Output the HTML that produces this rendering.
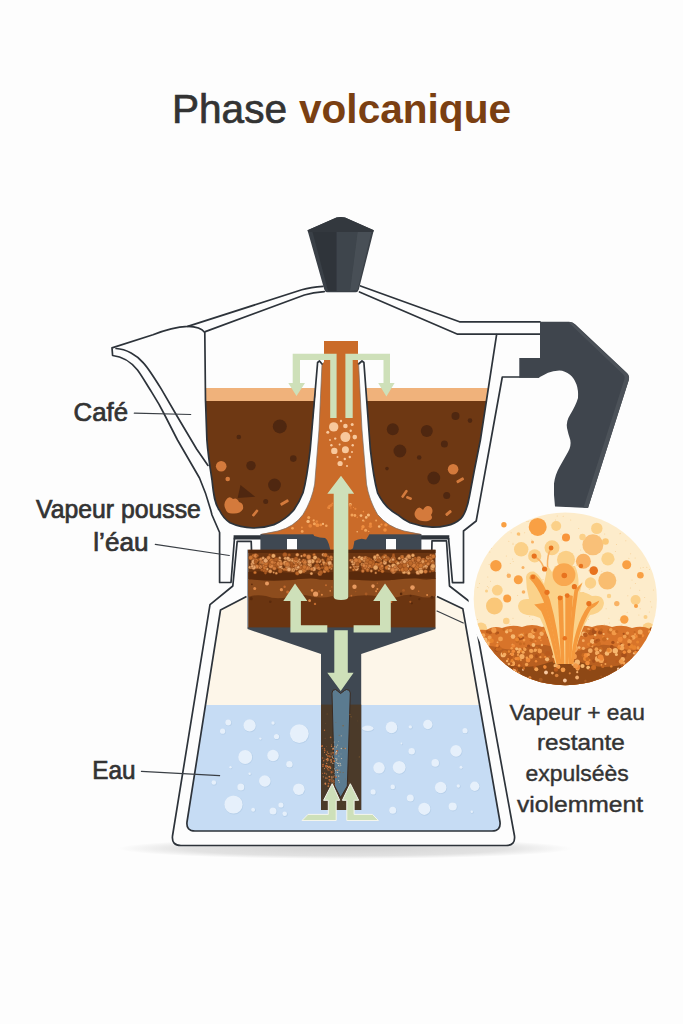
<!DOCTYPE html>
<html><head><meta charset="utf-8">
<style>
html,body{margin:0;padding:0;background:#fdfdfd;}
body{width:683px;height:1024px;overflow:hidden;font-family:"Liberation Sans",sans-serif;}
svg{display:block;position:absolute;left:0;top:0;}
text{font-family:"Liberation Sans",sans-serif;}
</style></head><body>
<svg width="683" height="1024" viewBox="0 0 683 1024">
<defs>
<radialGradient id="shadow" cx="50%" cy="50%" r="50%">
<stop offset="0" stop-color="#d4d4d4"/><stop offset="0.7" stop-color="#e2e2e2"/><stop offset="1" stop-color="#fdfdfd"/>
</radialGradient>
<clipPath id="circ"><ellipse cx="565.3" cy="598.9" rx="91.6" ry="86.3"/></clipPath>
</defs>
<rect width="683" height="1024" fill="#fdfdfd"/>

<!-- TITLE -->
<g id="title">
<text x="172" y="122.5" font-size="40" fill="#333333" stroke="#333333" stroke-width="0.7" textLength="115" lengthAdjust="spacingAndGlyphs">Phase</text>
<text x="299" y="122.5" font-size="40" font-weight="bold" fill="#7a3f12" textLength="212" lengthAdjust="spacingAndGlyphs">volcanique</text>
</g>

<!-- SHADOW -->
<ellipse cx="345" cy="848.5" rx="227" ry="10.5" fill="url(#shadow)"/>

<!-- BASE -->
<g id="base">
<path d="M251.5 550 L251.2 541.3 L237.2 541.3 L232.8 586 L210 604.7 L172.5 836 Q171.5 845.5 181 845.5 L506 845.5 Q515.5 845.5 514.5 836 L472 603.5 L449.5 586 L446.5 540.8 L432 540.8 L431.8 550" fill="#fdfdfd" stroke="#2d333a" stroke-width="1.7" stroke-linejoin="round"/>
<path d="M246.5 596.5 L220.5 610 L187 822 Q186 831 195 831 L492 831 Q501 831 500 822 L462.8 608.7 L437 596.5 Z" fill="#fdf6e9" stroke="none"/>
<path d="M205.5 705 L187 822 Q186 831 195 831 L492 831 Q501 831 500 822 L479.6 705 Z" fill="#c6dcf4"/>
<path d="M246.5 596.5 L220.5 610 L187 822 Q186 831 195 831 L492 831 Q501 831 500 822 L462.8 608.7 L437 596.5" fill="none" stroke="#2d333a" stroke-width="1.7" stroke-linejoin="round"/>
<g id="bubbles"><circle cx="228.6" cy="723.0" r="3.2" fill="#b7d0ea"/>
<circle cx="228.2" cy="722.5" r="2.9" fill="#e6f0fb"/>
<circle cx="223.0" cy="731.7" r="2.9" fill="#b7d0ea"/>
<circle cx="222.6" cy="731.2" r="2.6" fill="#e6f0fb"/>
<circle cx="250.0" cy="725.9" r="6.4" fill="#b7d0ea"/>
<circle cx="249.6" cy="725.4" r="6.1" fill="#e6f0fb"/>
<circle cx="273.4" cy="723.5" r="2.0" fill="#b7d0ea"/>
<circle cx="273.0" cy="723.0" r="1.7" fill="#e6f0fb"/>
<circle cx="299.7" cy="734.1" r="9.7" fill="#b7d0ea"/>
<circle cx="299.3" cy="733.6" r="9.4" fill="#e6f0fb"/>
<circle cx="276.9" cy="737.0" r="2.9" fill="#b7d0ea"/>
<circle cx="276.5" cy="736.5" r="2.6" fill="#e6f0fb"/>
<circle cx="260.8" cy="739.1" r="1.5" fill="#b7d0ea"/>
<circle cx="260.4" cy="738.6" r="1.2" fill="#e6f0fb"/>
<circle cx="245.6" cy="757.5" r="7.3" fill="#b7d0ea"/>
<circle cx="245.2" cy="757.0" r="7.0" fill="#e6f0fb"/>
<circle cx="273.4" cy="756.0" r="6.1" fill="#b7d0ea"/>
<circle cx="273.0" cy="755.5" r="5.8" fill="#e6f0fb"/>
<circle cx="289.8" cy="764.8" r="3.5" fill="#b7d0ea"/>
<circle cx="289.4" cy="764.3" r="3.2" fill="#e6f0fb"/>
<circle cx="230.9" cy="767.8" r="1.5" fill="#b7d0ea"/>
<circle cx="230.5" cy="767.3" r="1.2" fill="#e6f0fb"/>
<circle cx="250.0" cy="774.2" r="1.5" fill="#b7d0ea"/>
<circle cx="249.6" cy="773.7" r="1.2" fill="#e6f0fb"/>
<circle cx="214.2" cy="783.0" r="2.6" fill="#b7d0ea"/>
<circle cx="213.8" cy="782.5" r="2.3" fill="#e6f0fb"/>
<circle cx="265.2" cy="781.5" r="6.1" fill="#b7d0ea"/>
<circle cx="264.8" cy="781.0" r="5.8" fill="#e6f0fb"/>
<circle cx="241.2" cy="787.4" r="3.8" fill="#b7d0ea"/>
<circle cx="240.8" cy="786.9" r="3.5" fill="#e6f0fb"/>
<circle cx="299.2" cy="789.7" r="6.1" fill="#b7d0ea"/>
<circle cx="298.8" cy="789.2" r="5.8" fill="#e6f0fb"/>
<circle cx="233.9" cy="805.0" r="9.4" fill="#b7d0ea"/>
<circle cx="233.5" cy="804.5" r="9.1" fill="#e6f0fb"/>
<circle cx="253.5" cy="810.2" r="2.3" fill="#b7d0ea"/>
<circle cx="253.1" cy="809.7" r="2.0" fill="#e6f0fb"/>
<circle cx="273.4" cy="811.4" r="3.8" fill="#b7d0ea"/>
<circle cx="273.0" cy="810.9" r="3.5" fill="#e6f0fb"/>
<circle cx="281.3" cy="805.5" r="2.9" fill="#b7d0ea"/>
<circle cx="280.9" cy="805.0" r="2.6" fill="#e6f0fb"/>
<circle cx="285.1" cy="814.3" r="2.6" fill="#b7d0ea"/>
<circle cx="284.7" cy="813.8" r="2.3" fill="#e6f0fb"/>
<circle cx="391.9" cy="727.9" r="6.1" fill="#b7d0ea"/>
<circle cx="391.5" cy="727.4" r="5.8" fill="#e6f0fb"/>
<circle cx="410.7" cy="727.4" r="2.0" fill="#b7d0ea"/>
<circle cx="410.3" cy="726.9" r="1.7" fill="#e6f0fb"/>
<circle cx="428.2" cy="725.0" r="5.0" fill="#b7d0ea"/>
<circle cx="427.8" cy="724.5" r="4.7" fill="#e6f0fb"/>
<circle cx="465.4" cy="731.2" r="2.9" fill="#b7d0ea"/>
<circle cx="465.0" cy="730.7" r="2.6" fill="#e6f0fb"/>
<circle cx="412.1" cy="751.7" r="3.5" fill="#b7d0ea"/>
<circle cx="411.7" cy="751.2" r="3.2" fill="#e6f0fb"/>
<circle cx="456.4" cy="751.4" r="6.1" fill="#b7d0ea"/>
<circle cx="456.0" cy="750.9" r="5.8" fill="#e6f0fb"/>
<circle cx="401.9" cy="744.0" r="1.2" fill="#b7d0ea"/>
<circle cx="401.5" cy="743.5" r="0.9" fill="#e6f0fb"/>
<circle cx="435.6" cy="763.4" r="4.1" fill="#b7d0ea"/>
<circle cx="435.2" cy="762.9" r="3.8" fill="#e6f0fb"/>
<circle cx="379.4" cy="768.3" r="6.1" fill="#b7d0ea"/>
<circle cx="379.0" cy="767.8" r="5.8" fill="#e6f0fb"/>
<circle cx="399.6" cy="767.8" r="6.7" fill="#b7d0ea"/>
<circle cx="399.2" cy="767.3" r="6.4" fill="#e6f0fb"/>
<circle cx="461.4" cy="767.8" r="1.8" fill="#b7d0ea"/>
<circle cx="461.0" cy="767.3" r="1.5" fill="#e6f0fb"/>
<circle cx="441.1" cy="788.0" r="6.1" fill="#b7d0ea"/>
<circle cx="440.7" cy="787.5" r="5.8" fill="#e6f0fb"/>
<circle cx="475.1" cy="786.8" r="5.0" fill="#b7d0ea"/>
<circle cx="474.7" cy="786.3" r="4.7" fill="#e6f0fb"/>
<circle cx="458.7" cy="786.5" r="2.0" fill="#b7d0ea"/>
<circle cx="458.3" cy="786.0" r="1.7" fill="#e6f0fb"/>
<circle cx="393.1" cy="787.4" r="2.6" fill="#b7d0ea"/>
<circle cx="392.7" cy="786.9" r="2.3" fill="#e6f0fb"/>
<circle cx="373.5" cy="792.4" r="2.9" fill="#b7d0ea"/>
<circle cx="373.1" cy="791.9" r="2.6" fill="#e6f0fb"/>
<circle cx="410.7" cy="798.5" r="3.8" fill="#b7d0ea"/>
<circle cx="410.3" cy="798.0" r="3.5" fill="#e6f0fb"/>
<circle cx="424.7" cy="809.3" r="6.4" fill="#b7d0ea"/>
<circle cx="424.3" cy="808.8" r="6.1" fill="#e6f0fb"/>
<circle cx="453.1" cy="807.0" r="4.4" fill="#b7d0ea"/>
<circle cx="452.7" cy="806.5" r="4.1" fill="#e6f0fb"/>
<circle cx="393.1" cy="810.8" r="3.8" fill="#b7d0ea"/>
<circle cx="392.7" cy="810.3" r="3.5" fill="#e6f0fb"/>
<circle cx="472.2" cy="812.3" r="1.5" fill="#b7d0ea"/>
<circle cx="471.8" cy="811.8" r="1.2" fill="#e6f0fb"/>
<ellipse cx="368.2" cy="728.8" rx="6" ry="3" fill="#b7d0ea"/><ellipse cx="367.8" cy="728.3" rx="5.7" ry="2.7" fill="#e6f0fb"/></g>
</g>

<!-- UPPER -->
<g id="upper" fill="none" stroke="#2d333a" stroke-width="1.7" stroke-linejoin="round" stroke-linecap="round">
<!-- orange column -->
<path d="M324 341 L358 341 L358 362 L358.6 364 L362 430 L366.5 484 Q369 500 377.6 514.6 Q388 527 404 531 L421 534 L421 536 L261 536 L261 534 L278 531 Q294 527 303 514.6 Q312 500 314.7 484 L319 430 L322 364 L324 362 Z" fill="#ca6b29" stroke="none"/>
<!-- left lobe: crema + coffee -->
<path id="lobeL" d="M205.4 388 L316 388 L310.3 448.8 Q307 478 303 492.8 Q299 503 293.4 510.5 Q285 520 274 524.6 Q264 528 253 528 Q240 527.5 230 522.8 Q223 518 219.6 510.5 C215 505 213.5 495 212 480 Q208 455 206.9 440 Z" fill="#6e3813" stroke="none"/>
<path d="M205.4 388 L316 388 L314.8 401 L205.6 401 Z" fill="#f0b27b" stroke="none"/>
<!-- right lobe -->
<path id="lobeR" d="M488.3 388 L480.4 440 L474.4 470 L469.5 496 C467.5 507 465 514 461.2 518.3 Q455 524 446.6 525.6 Q439 527.3 432 527.1 Q421 526.5 410 522.7 Q403 519.5 397.6 514.7 Q385 508 377.6 492.8 Q373.5 478 370.3 448.8 L365.8 388 Z" fill="#6e3813" stroke="none"/>
<path d="M488.3 388 L365.8 388 L366.8 401 L486.3 401 Z" fill="#f0b27b" stroke="none"/>
<g id="specks" stroke="none"><circle cx="279.8" cy="426.4" r="7.0" fill="#4f2710"/>
<circle cx="238.8" cy="437.0" r="2.3" fill="#4f2710"/>
<circle cx="293.3" cy="458.6" r="3.3" fill="#4f2710"/>
<circle cx="251.0" cy="465.6" r="4.7" fill="#4f2710"/>
<circle cx="274.5" cy="485.0" r="6.4" fill="#4f2710"/>
<circle cx="265.7" cy="501.4" r="2.5" fill="#4f2710"/>
<circle cx="392.8" cy="429.3" r="6.0" fill="#4f2710"/>
<circle cx="426.8" cy="431.1" r="6.0" fill="#4f2710"/>
<circle cx="455.5" cy="415.9" r="4.0" fill="#4f2710"/>
<circle cx="470.0" cy="420.6" r="2.3" fill="#4f2710"/>
<circle cx="399.9" cy="451.0" r="6.4" fill="#4f2710"/>
<circle cx="444.4" cy="444.0" r="3.5" fill="#4f2710"/>
<circle cx="419.2" cy="457.5" r="2.3" fill="#4f2710"/>
<circle cx="387.0" cy="468.6" r="1.8" fill="#4f2710"/>
<circle cx="433.8" cy="478.0" r="6.4" fill="#4f2710"/>
<circle cx="446.7" cy="495.5" r="3.5" fill="#4f2710"/>
<circle cx="221.2" cy="466.2" r="5.3" fill="#d47a3c"/>
<circle cx="227.7" cy="479.0" r="2.3" fill="#d47a3c"/>
<circle cx="453.1" cy="469.2" r="5.3" fill="#d47a3c"/>
<path d="M240.5 485 L255.2 496.7 L237.6 497.9 Z" fill="#4f2710"/>
<path d="M226 500 Q229 495 233 499 Q237 497 239 502 Q244 503 243 509 Q240 514 233 513.5 Q227 514 225.5 509 Q223 504 226 500 Z" fill="#d47a3c"/>
<path d="M416 510 Q419 505 423 510 Q426 504 431 507 Q434 511 431 515 Q434 519 428 521 Q420 522 416 518 Q413 514 416 510 Z" fill="#d47a3c"/>
<rect x="-4.0" y="-1.3" width="8" height="2.6" rx="1" fill="#d47a3c" transform="translate(255.2,513) rotate(-50)"/>
<rect x="-4.5" y="-1.5" width="9" height="3" rx="1" fill="#d47a3c" transform="translate(284.5,502.5) rotate(-30)"/>
<rect x="-4.5" y="-1.3" width="9" height="2.6" rx="1" fill="#d47a3c" transform="translate(404.5,493.8) rotate(-55)"/>
<rect x="-3.0" y="-1.3" width="6" height="2.6" rx="1" fill="#d47a3c" transform="translate(409,498) rotate(20)"/>
<rect x="-4.0" y="-1.5" width="8" height="3" rx="1" fill="#d47a3c" transform="translate(460.2,480.3) rotate(-30)"/>
<rect x="-3.5" y="-1.5" width="7" height="3" rx="1" fill="#d47a3c" transform="translate(448.5,513) rotate(-40)"/></g>
<!-- lobe outlines / chamber walls -->
<path d="M187.8 326.4 Q200.5 326.5 204.8 332.5 L205.5 400 L206.9 440 Q208 455 212 480 C213.5 495 215 505 219.6 510.5 Q223 518 230 522.8 Q240 527.5 253 528 Q264 528 274 524.6 Q285 520 293.4 510.5 Q299 503 303 492.8 Q307 478 310.3 448.8 L317.6 362.5 L319.5 361 L322 364"/>
<path d="M496.6 334.7 L480.4 440 L474.4 470 L469.5 496 C467.5 507 465 514 461.2 518.3 Q455 524 446.6 525.6 Q439 527.3 432 527.1 Q421 526.5 410 522.7 Q403 519.5 397.6 514.7 Q385 508 377.6 492.8 Q373.5 478 370.3 448.8 L363.9 362.5 L362 361 L358.6 364"/>
<!-- funnel inner lines -->
<path d="M322 364 L319 430 L314.7 484 Q312 500 303 514.6 Q294 527 278 531 L261 534.5" stroke-width="0.7" stroke="#7a6a60"/>
<path d="M358.6 364 L362 430 L366.5 484 Q369 500 377.6 514.6 Q388 527 404 531 L421 534.5" stroke-width="0.7" stroke="#7a6a60"/>
<!-- lid -->
<path d="M323 286.3 Q311 287 301.8 289.8 L187.8 326.4 C178 326.9 166 329.6 153 334.8 L112 347.9 L112.6 355.5 C122 356.5 131 362 137.5 370 C142 376 147 385 151.8 392.4 L158.9 404.1 L164.7 415 L177.5 440 L199.5 478 Q207 495 212 515 L219.6 532.5 L219.6 582.5 L231 582.5 L234.5 538"/>
<path d="M324.2 291.6 Q313 292.3 304.4 295 L205.3 331.6"/>
<path d="M116.1 348.5 C126 349 137 355 143.6 363.1 C148 368 152 374 161.2 388.9 L176.4 415 L196.6 449 L208 465.4"/>
<path d="M360.5 286 L459.5 321.8 L540 321.8"/>
<path d="M359.5 292 L457.6 334.2 L540 334.2"/>
<path d="M538.5 377 L502.3 377 L490.9 440 L476.2 521 L463.5 531 L463.5 582.7 L452.5 582.7 L448.6 538.5"/>
</g>

<g id="mid">
<!-- collar top bars -->
<path d="M233.6 537.3 L261 537.3 M421 537.3 L449.3 537.3" stroke="#2d333a" stroke-width="4.2" fill="none"/>
<!-- funnel / tube dark -->
<path d="M247.5 627 L435.5 627 L435.5 629 L361.2 654 L361.2 810 L321 810 L321 654 L247.5 629 Z" fill="#3f4852"/>
<rect x="321" y="704.6" width="40.2" height="105.4" fill="#4b3a29"/>
<!-- filter plate -->
<rect x="260.4" y="534.3" width="161" height="16" fill="#3f4852"/>
<rect x="287" y="539" width="10" height="10.5" fill="#fdfdfd"/>
<rect x="386" y="539" width="10" height="10.5" fill="#fdfdfd"/>
<!-- orange drip into plate -->
<path d="M310 532 L312.7 532.9 L314.2 535.9 Q320 538 325.1 538.1 Q328 540 328.8 543.9 L330.3 549.8 L333.2 552 L348.1 552 L353 548.3 Q354 544 354.4 541 Q358 539 361.7 538.8 L366.1 539.5 Q368.5 536 369.8 532.9 L372 532 Z" fill="#ca6b29"/>
<!-- basket -->
<rect x="247.5" y="549.8" width="188" height="77.6" fill="#6b3511"/>
<rect x="247" y="549.8" width="1.3" height="77.6" fill="#9aa3ad"/>
<g id="grounds"><path d="M248.3 549.8 L435.5 549.8 L435.5 553 L248.3 553 Z" fill="#55280c"/>
<path d="M248.3 580 Q256 577 264 579 Q272 576 282 579 Q292 582 300 578 Q310 576 320 580 L333 580 L333 596 Q320 599 310 596 Q298 593 288 597 Q276 600 266 596 Q256 594 248.3 597 Z" fill="#8d4c1d"/>
<path d="M349 580 L360 580 Q370 576 380 579 Q390 582 400 578 Q410 576 420 579 Q428 581 435.5 578 L435.5 596 Q428 599 418 596 Q408 593 398 597 Q386 600 376 596 Q364 594 349 597 Z" fill="#8d4c1d"/>
<path d="M248.3 572 Q270 570 290 573 Q310 575 333 572 L333 580 Q310 577 290 580 Q270 582 248.3 579 Z" fill="#5a2a0c"/>
<path d="M349 572 Q370 570 392 573 Q414 575 435.5 572 L435.5 579 Q414 577 392 580 Q370 582 349 579 Z" fill="#5a2a0c"/>
<circle cx="432.7" cy="570.1" r="1.7" fill="#cc7532" stroke="#8a4516" stroke-width="0.4"/>
<circle cx="362.5" cy="564.7" r="1.9" fill="#e9a868" stroke="#8a4516" stroke-width="0.4"/>
<circle cx="370.9" cy="559.8" r="1.2" fill="#d98545" stroke="#8a4516" stroke-width="0.4"/>
<circle cx="397.1" cy="568.6" r="2.1" fill="#e39a5a" stroke="#8a4516" stroke-width="0.4"/>
<circle cx="402.0" cy="567.6" r="1.3" fill="#d27c3c" stroke="#8a4516" stroke-width="0.4"/>
<circle cx="289.2" cy="555.0" r="1.5" fill="#b05f26" stroke="#8a4516" stroke-width="0.4"/>
<circle cx="403.5" cy="563.4" r="1.1" fill="#bd692b" stroke="#8a4516" stroke-width="0.4"/>
<circle cx="415.2" cy="558.7" r="1.8" fill="#cc7532" stroke="#8a4516" stroke-width="0.4"/>
<circle cx="253.4" cy="555.7" r="1.7" fill="#cc7532" stroke="#8a4516" stroke-width="0.4"/>
<circle cx="362.0" cy="564.0" r="1.2" fill="#e39a5a" stroke="#8a4516" stroke-width="0.4"/>
<circle cx="352.4" cy="560.7" r="1.5" fill="#e9a868" stroke="#8a4516" stroke-width="0.4"/>
<circle cx="394.3" cy="568.5" r="1.4" fill="#d27c3c" stroke="#8a4516" stroke-width="0.4"/>
<circle cx="257.8" cy="567.5" r="1.1" fill="#e9a868" stroke="#8a4516" stroke-width="0.4"/>
<circle cx="353.4" cy="564.2" r="1.7" fill="#e8a66c" stroke="#8a4516" stroke-width="0.4"/>
<circle cx="423.2" cy="560.3" r="2.4" fill="#d27c3c" stroke="#8a4516" stroke-width="0.4"/>
<circle cx="414.3" cy="565.1" r="1.6" fill="#b05f26" stroke="#8a4516" stroke-width="0.4"/>
<circle cx="331.3" cy="568.7" r="1.1" fill="#e8a66c" stroke="#8a4516" stroke-width="0.4"/>
<circle cx="328.8" cy="564.5" r="1.2" fill="#cc7532" stroke="#8a4516" stroke-width="0.4"/>
<circle cx="422.9" cy="567.6" r="2.0" fill="#bd692b" stroke="#8a4516" stroke-width="0.4"/>
<circle cx="276.3" cy="573.2" r="1.3" fill="#e39a5a" stroke="#8a4516" stroke-width="0.4"/>
<circle cx="323.3" cy="554.7" r="1.7" fill="#e8a66c" stroke="#8a4516" stroke-width="0.4"/>
<circle cx="279.7" cy="558.0" r="1.5" fill="#e8a66c" stroke="#8a4516" stroke-width="0.4"/>
<circle cx="315.6" cy="566.0" r="1.1" fill="#bd692b" stroke="#8a4516" stroke-width="0.4"/>
<circle cx="253.6" cy="558.4" r="1.0" fill="#bd692b" stroke="#8a4516" stroke-width="0.4"/>
<circle cx="304.4" cy="561.7" r="2.4" fill="#e39a5a" stroke="#8a4516" stroke-width="0.4"/>
<circle cx="431.3" cy="566.7" r="1.2" fill="#d27c3c" stroke="#8a4516" stroke-width="0.4"/>
<circle cx="416.7" cy="567.0" r="2.2" fill="#d27c3c" stroke="#8a4516" stroke-width="0.4"/>
<circle cx="324.7" cy="571.1" r="1.8" fill="#e9a868" stroke="#8a4516" stroke-width="0.4"/>
<circle cx="378.9" cy="565.0" r="2.0" fill="#b05f26" stroke="#8a4516" stroke-width="0.4"/>
<circle cx="414.7" cy="564.4" r="1.4" fill="#d98545" stroke="#8a4516" stroke-width="0.4"/>
<circle cx="366.7" cy="564.2" r="2.3" fill="#e39a5a" stroke="#8a4516" stroke-width="0.4"/>
<circle cx="298.7" cy="561.5" r="1.2" fill="#d98545" stroke="#8a4516" stroke-width="0.4"/>
<circle cx="299.3" cy="559.8" r="1.2" fill="#e8a66c" stroke="#8a4516" stroke-width="0.4"/>
<circle cx="422.6" cy="567.3" r="1.3" fill="#d27c3c" stroke="#8a4516" stroke-width="0.4"/>
<circle cx="365.7" cy="562.8" r="1.8" fill="#e8a66c" stroke="#8a4516" stroke-width="0.4"/>
<circle cx="303.4" cy="560.4" r="1.5" fill="#d98545" stroke="#8a4516" stroke-width="0.4"/>
<circle cx="433.0" cy="563.5" r="1.1" fill="#d98545" stroke="#8a4516" stroke-width="0.4"/>
<circle cx="384.9" cy="560.4" r="1.7" fill="#e9a868" stroke="#8a4516" stroke-width="0.4"/>
<circle cx="269.6" cy="562.5" r="2.2" fill="#b05f26" stroke="#8a4516" stroke-width="0.4"/>
<circle cx="428.5" cy="560.5" r="1.5" fill="#e8a66c" stroke="#8a4516" stroke-width="0.4"/>
<circle cx="430.8" cy="558.3" r="2.1" fill="#cc7532" stroke="#8a4516" stroke-width="0.4"/>
<circle cx="324.5" cy="571.4" r="1.5" fill="#d98545" stroke="#8a4516" stroke-width="0.4"/>
<circle cx="404.0" cy="570.5" r="2.3" fill="#b05f26" stroke="#8a4516" stroke-width="0.4"/>
<circle cx="280.0" cy="564.1" r="1.1" fill="#b05f26" stroke="#8a4516" stroke-width="0.4"/>
<circle cx="410.2" cy="561.6" r="1.4" fill="#d27c3c" stroke="#8a4516" stroke-width="0.4"/>
<circle cx="258.3" cy="559.9" r="1.3" fill="#d27c3c" stroke="#8a4516" stroke-width="0.4"/>
<circle cx="350.7" cy="560.3" r="1.4" fill="#d27c3c" stroke="#8a4516" stroke-width="0.4"/>
<circle cx="290.1" cy="565.3" r="1.1" fill="#d27c3c" stroke="#8a4516" stroke-width="0.4"/>
<circle cx="287.0" cy="567.6" r="1.8" fill="#d98545" stroke="#8a4516" stroke-width="0.4"/>
<circle cx="266.7" cy="564.6" r="1.9" fill="#b05f26" stroke="#8a4516" stroke-width="0.4"/>
<circle cx="254.1" cy="561.0" r="1.5" fill="#e8a66c" stroke="#8a4516" stroke-width="0.4"/>
<circle cx="265.5" cy="573.0" r="1.2" fill="#b05f26" stroke="#8a4516" stroke-width="0.4"/>
<circle cx="390.6" cy="560.9" r="2.1" fill="#e9a868" stroke="#8a4516" stroke-width="0.4"/>
<circle cx="277.5" cy="562.3" r="1.1" fill="#b05f26" stroke="#8a4516" stroke-width="0.4"/>
<circle cx="385.0" cy="556.4" r="2.2" fill="#cc7532" stroke="#8a4516" stroke-width="0.4"/>
<circle cx="417.4" cy="563.6" r="2.2" fill="#d98545" stroke="#8a4516" stroke-width="0.4"/>
<circle cx="402.1" cy="557.0" r="1.9" fill="#e8a66c" stroke="#8a4516" stroke-width="0.4"/>
<circle cx="265.7" cy="570.4" r="2.4" fill="#b05f26" stroke="#8a4516" stroke-width="0.4"/>
<circle cx="403.8" cy="565.4" r="1.8" fill="#d98545" stroke="#8a4516" stroke-width="0.4"/>
<circle cx="365.2" cy="561.1" r="1.0" fill="#e39a5a" stroke="#8a4516" stroke-width="0.4"/>
<circle cx="387.7" cy="558.2" r="1.8" fill="#e39a5a" stroke="#8a4516" stroke-width="0.4"/>
<circle cx="371.3" cy="571.0" r="1.4" fill="#e39a5a" stroke="#8a4516" stroke-width="0.4"/>
<circle cx="405.7" cy="566.8" r="1.4" fill="#e8a66c" stroke="#8a4516" stroke-width="0.4"/>
<circle cx="292.5" cy="560.2" r="2.3" fill="#e39a5a" stroke="#8a4516" stroke-width="0.4"/>
<circle cx="375.8" cy="559.0" r="2.2" fill="#e8a66c" stroke="#8a4516" stroke-width="0.4"/>
<circle cx="264.3" cy="565.8" r="2.1" fill="#d27c3c" stroke="#8a4516" stroke-width="0.4"/>
<circle cx="364.3" cy="566.6" r="1.2" fill="#e9a868" stroke="#8a4516" stroke-width="0.4"/>
<circle cx="261.2" cy="562.6" r="2.0" fill="#e9a868" stroke="#8a4516" stroke-width="0.4"/>
<circle cx="303.5" cy="570.9" r="1.8" fill="#e9a868" stroke="#8a4516" stroke-width="0.4"/>
<circle cx="391.2" cy="569.8" r="1.5" fill="#e39a5a" stroke="#8a4516" stroke-width="0.4"/>
<circle cx="422.3" cy="563.2" r="1.0" fill="#e9a868" stroke="#8a4516" stroke-width="0.4"/>
<circle cx="432.9" cy="562.8" r="1.6" fill="#e8a66c" stroke="#8a4516" stroke-width="0.4"/>
<circle cx="263.7" cy="570.5" r="1.4" fill="#bd692b" stroke="#8a4516" stroke-width="0.4"/>
<circle cx="274.4" cy="568.0" r="2.2" fill="#d27c3c" stroke="#8a4516" stroke-width="0.4"/>
<circle cx="413.2" cy="562.5" r="2.3" fill="#e9a868" stroke="#8a4516" stroke-width="0.4"/>
<circle cx="322.5" cy="560.0" r="1.2" fill="#e9a868" stroke="#8a4516" stroke-width="0.4"/>
<circle cx="375.4" cy="556.8" r="1.6" fill="#b05f26" stroke="#8a4516" stroke-width="0.4"/>
<circle cx="308.2" cy="568.0" r="2.3" fill="#d98545" stroke="#8a4516" stroke-width="0.4"/>
<circle cx="309.7" cy="560.8" r="2.4" fill="#e8a66c" stroke="#8a4516" stroke-width="0.4"/>
<circle cx="381.2" cy="567.8" r="2.4" fill="#d27c3c" stroke="#8a4516" stroke-width="0.4"/>
<circle cx="296.6" cy="568.1" r="2.3" fill="#e39a5a" stroke="#8a4516" stroke-width="0.4"/>
<circle cx="316.4" cy="565.5" r="1.6" fill="#d27c3c" stroke="#8a4516" stroke-width="0.4"/>
<circle cx="407.2" cy="563.2" r="2.0" fill="#cc7532" stroke="#8a4516" stroke-width="0.4"/>
<circle cx="295.9" cy="565.1" r="1.4" fill="#bd692b" stroke="#8a4516" stroke-width="0.4"/>
<circle cx="284.9" cy="554.8" r="2.3" fill="#b05f26" stroke="#8a4516" stroke-width="0.4"/>
<circle cx="418.1" cy="572.4" r="2.4" fill="#e8a66c" stroke="#8a4516" stroke-width="0.4"/>
<circle cx="382.4" cy="571.2" r="1.7" fill="#cc7532" stroke="#8a4516" stroke-width="0.4"/>
<circle cx="368.6" cy="566.0" r="1.4" fill="#d98545" stroke="#8a4516" stroke-width="0.4"/>
<circle cx="417.8" cy="560.6" r="1.6" fill="#d27c3c" stroke="#8a4516" stroke-width="0.4"/>
<circle cx="304.8" cy="562.6" r="2.1" fill="#d27c3c" stroke="#8a4516" stroke-width="0.4"/>
<circle cx="324.7" cy="563.9" r="2.0" fill="#e39a5a" stroke="#8a4516" stroke-width="0.4"/>
<circle cx="280.8" cy="569.2" r="1.2" fill="#e8a66c" stroke="#8a4516" stroke-width="0.4"/>
<circle cx="399.4" cy="558.3" r="1.5" fill="#e9a868" stroke="#8a4516" stroke-width="0.4"/>
<circle cx="328.6" cy="561.8" r="1.8" fill="#e8a66c" stroke="#8a4516" stroke-width="0.4"/>
<circle cx="266.7" cy="562.3" r="1.4" fill="#d27c3c" stroke="#8a4516" stroke-width="0.4"/>
<circle cx="398.9" cy="565.3" r="1.3" fill="#d98545" stroke="#8a4516" stroke-width="0.4"/>
<circle cx="387.9" cy="559.1" r="1.8" fill="#b05f26" stroke="#8a4516" stroke-width="0.4"/>
<circle cx="299.7" cy="566.2" r="2.1" fill="#e9a868" stroke="#8a4516" stroke-width="0.4"/>
<circle cx="301.1" cy="566.0" r="1.8" fill="#e8a66c" stroke="#8a4516" stroke-width="0.4"/>
<circle cx="267.0" cy="563.0" r="2.3" fill="#b05f26" stroke="#8a4516" stroke-width="0.4"/>
<circle cx="406.2" cy="567.6" r="2.3" fill="#d98545" stroke="#8a4516" stroke-width="0.4"/>
<circle cx="273.4" cy="555.9" r="2.2" fill="#e9a868" stroke="#8a4516" stroke-width="0.4"/>
<circle cx="250.0" cy="567.3" r="1.6" fill="#e9a868" stroke="#8a4516" stroke-width="0.4"/>
<circle cx="428.9" cy="563.5" r="1.2" fill="#e39a5a" stroke="#8a4516" stroke-width="0.4"/>
<circle cx="423.2" cy="565.9" r="2.1" fill="#e9a868" stroke="#8a4516" stroke-width="0.4"/>
<circle cx="265.6" cy="563.5" r="1.2" fill="#d98545" stroke="#8a4516" stroke-width="0.4"/>
<circle cx="368.8" cy="563.2" r="1.5" fill="#cc7532" stroke="#8a4516" stroke-width="0.4"/>
<circle cx="365.3" cy="558.2" r="2.1" fill="#e39a5a" stroke="#8a4516" stroke-width="0.4"/>
<circle cx="262.9" cy="562.6" r="1.8" fill="#e8a66c" stroke="#8a4516" stroke-width="0.4"/>
<circle cx="321.4" cy="564.6" r="1.0" fill="#d27c3c" stroke="#8a4516" stroke-width="0.4"/>
<circle cx="433.3" cy="570.2" r="1.4" fill="#bd692b" stroke="#8a4516" stroke-width="0.4"/>
<circle cx="368.6" cy="567.7" r="1.4" fill="#e8a66c" stroke="#8a4516" stroke-width="0.4"/>
<circle cx="255.4" cy="559.7" r="1.6" fill="#d27c3c" stroke="#8a4516" stroke-width="0.4"/>
<circle cx="260.2" cy="567.1" r="2.0" fill="#e39a5a" stroke="#8a4516" stroke-width="0.4"/>
<circle cx="297.3" cy="573.3" r="2.0" fill="#bd692b" stroke="#8a4516" stroke-width="0.4"/>
<circle cx="291.7" cy="567.9" r="1.6" fill="#b05f26" stroke="#8a4516" stroke-width="0.4"/>
<circle cx="286.4" cy="564.5" r="2.2" fill="#e39a5a" stroke="#8a4516" stroke-width="0.4"/>
<circle cx="287.8" cy="567.7" r="2.2" fill="#e8a66c" stroke="#8a4516" stroke-width="0.4"/>
<circle cx="298.8" cy="562.7" r="2.3" fill="#e39a5a" stroke="#8a4516" stroke-width="0.4"/>
<circle cx="425.2" cy="560.3" r="1.3" fill="#b05f26" stroke="#8a4516" stroke-width="0.4"/>
<circle cx="417.5" cy="563.6" r="1.1" fill="#cc7532" stroke="#8a4516" stroke-width="0.4"/>
<circle cx="419.6" cy="564.5" r="1.9" fill="#b05f26" stroke="#8a4516" stroke-width="0.4"/>
<circle cx="259.5" cy="563.9" r="1.1" fill="#b05f26" stroke="#8a4516" stroke-width="0.4"/>
<circle cx="381.0" cy="562.5" r="1.1" fill="#cc7532" stroke="#8a4516" stroke-width="0.4"/>
<circle cx="310.6" cy="565.8" r="1.3" fill="#e9a868" stroke="#8a4516" stroke-width="0.4"/>
<circle cx="255.9" cy="561.0" r="1.6" fill="#bd692b" stroke="#8a4516" stroke-width="0.4"/>
<circle cx="331.4" cy="559.3" r="1.2" fill="#e39a5a" stroke="#8a4516" stroke-width="0.4"/>
<circle cx="301.5" cy="556.1" r="1.2" fill="#e8a66c" stroke="#8a4516" stroke-width="0.4"/>
<circle cx="319.9" cy="573.5" r="2.2" fill="#d27c3c" stroke="#8a4516" stroke-width="0.4"/>
<circle cx="401.2" cy="562.1" r="1.7" fill="#bd692b" stroke="#8a4516" stroke-width="0.4"/>
<circle cx="309.5" cy="564.2" r="2.1" fill="#e9a868" stroke="#8a4516" stroke-width="0.4"/>
<circle cx="255.6" cy="555.8" r="2.2" fill="#d98545" stroke="#8a4516" stroke-width="0.4"/>
<circle cx="319.1" cy="568.4" r="1.7" fill="#d98545" stroke="#8a4516" stroke-width="0.4"/>
<circle cx="297.3" cy="563.3" r="1.5" fill="#d27c3c" stroke="#8a4516" stroke-width="0.4"/>
<circle cx="425.5" cy="571.5" r="2.0" fill="#d27c3c" stroke="#8a4516" stroke-width="0.4"/>
<circle cx="304.7" cy="565.7" r="2.1" fill="#e39a5a" stroke="#8a4516" stroke-width="0.4"/>
<circle cx="254.5" cy="564.1" r="2.4" fill="#b05f26" stroke="#8a4516" stroke-width="0.4"/>
<circle cx="395.3" cy="569.1" r="2.4" fill="#e9a868" stroke="#8a4516" stroke-width="0.4"/>
<circle cx="274.4" cy="562.8" r="2.4" fill="#d27c3c" stroke="#8a4516" stroke-width="0.4"/>
<circle cx="401.4" cy="563.5" r="2.2" fill="#e8a66c" stroke="#8a4516" stroke-width="0.4"/>
<circle cx="310.3" cy="561.5" r="2.2" fill="#e39a5a" stroke="#8a4516" stroke-width="0.4"/>
<circle cx="322.1" cy="567.8" r="1.2" fill="#b05f26" stroke="#8a4516" stroke-width="0.4"/>
<circle cx="261.9" cy="569.7" r="1.5" fill="#b05f26" stroke="#8a4516" stroke-width="0.4"/>
<circle cx="412.6" cy="564.8" r="2.5" fill="#d27c3c" stroke="#8a4516" stroke-width="0.4"/>
<circle cx="364.9" cy="564.9" r="2.5" fill="#e9a868" stroke="#8a4516" stroke-width="0.4"/>
<circle cx="281.9" cy="568.5" r="1.2" fill="#e9a868" stroke="#8a4516" stroke-width="0.4"/>
<circle cx="364.1" cy="559.7" r="2.3" fill="#e39a5a" stroke="#8a4516" stroke-width="0.4"/>
<circle cx="393.5" cy="556.1" r="1.4" fill="#d27c3c" stroke="#8a4516" stroke-width="0.4"/>
<circle cx="354.3" cy="557.8" r="1.3" fill="#e8a66c" stroke="#8a4516" stroke-width="0.4"/>
<circle cx="284.2" cy="569.4" r="1.4" fill="#d27c3c" stroke="#8a4516" stroke-width="0.4"/>
<circle cx="412.7" cy="559.6" r="1.6" fill="#e8a66c" stroke="#8a4516" stroke-width="0.4"/>
<circle cx="292.6" cy="561.4" r="2.2" fill="#e9a868" stroke="#8a4516" stroke-width="0.4"/>
<circle cx="432.3" cy="568.0" r="2.2" fill="#e9a868" stroke="#8a4516" stroke-width="0.4"/>
<circle cx="418.2" cy="566.9" r="1.1" fill="#d27c3c" stroke="#8a4516" stroke-width="0.4"/>
<circle cx="292.9" cy="569.9" r="2.2" fill="#e8a66c" stroke="#8a4516" stroke-width="0.4"/>
<circle cx="421.2" cy="565.6" r="1.6" fill="#cc7532" stroke="#8a4516" stroke-width="0.4"/>
<circle cx="297.8" cy="565.6" r="1.2" fill="#bd692b" stroke="#8a4516" stroke-width="0.4"/>
<circle cx="317.8" cy="565.6" r="1.4" fill="#e8a66c" stroke="#8a4516" stroke-width="0.4"/>
<circle cx="399.9" cy="566.1" r="2.2" fill="#b05f26" stroke="#8a4516" stroke-width="0.4"/>
<circle cx="374.8" cy="565.2" r="1.3" fill="#e9a868" stroke="#8a4516" stroke-width="0.4"/>
<circle cx="350.8" cy="567.5" r="1.1" fill="#e39a5a" stroke="#8a4516" stroke-width="0.4"/>
<circle cx="396.4" cy="562.0" r="1.8" fill="#cc7532" stroke="#8a4516" stroke-width="0.4"/>
<circle cx="323.2" cy="561.0" r="1.4" fill="#d27c3c" stroke="#8a4516" stroke-width="0.4"/>
<circle cx="372.9" cy="562.1" r="2.1" fill="#bd692b" stroke="#8a4516" stroke-width="0.4"/>
<circle cx="326.2" cy="564.3" r="1.0" fill="#bd692b" stroke="#8a4516" stroke-width="0.4"/>
<circle cx="368.6" cy="559.6" r="2.4" fill="#b05f26" stroke="#8a4516" stroke-width="0.4"/>
<circle cx="415.9" cy="566.7" r="1.6" fill="#e39a5a" stroke="#8a4516" stroke-width="0.4"/>
<circle cx="324.7" cy="567.6" r="1.2" fill="#d98545" stroke="#8a4516" stroke-width="0.4"/>
<circle cx="259.5" cy="559.8" r="1.2" fill="#b05f26" stroke="#8a4516" stroke-width="0.4"/>
<circle cx="266.4" cy="560.0" r="1.8" fill="#cc7532" stroke="#8a4516" stroke-width="0.4"/>
<circle cx="314.0" cy="560.2" r="1.2" fill="#cc7532" stroke="#8a4516" stroke-width="0.4"/>
<circle cx="420.3" cy="568.0" r="2.2" fill="#e8a66c" stroke="#8a4516" stroke-width="0.4"/>
<circle cx="305.5" cy="567.2" r="2.3" fill="#d98545" stroke="#8a4516" stroke-width="0.4"/>
<circle cx="429.5" cy="561.9" r="2.4" fill="#b05f26" stroke="#8a4516" stroke-width="0.4"/>
<circle cx="265.9" cy="563.7" r="2.1" fill="#cc7532" stroke="#8a4516" stroke-width="0.4"/>
<circle cx="367.8" cy="567.8" r="1.9" fill="#e8a66c" stroke="#8a4516" stroke-width="0.4"/>
<circle cx="402.6" cy="558.0" r="1.3" fill="#e8a66c" stroke="#8a4516" stroke-width="0.4"/>
<circle cx="257.7" cy="566.2" r="1.5" fill="#cc7532" stroke="#8a4516" stroke-width="0.4"/>
<circle cx="295.5" cy="562.4" r="2.1" fill="#e8a66c" stroke="#8a4516" stroke-width="0.4"/>
<circle cx="257.6" cy="555.7" r="1.1" fill="#bd692b" stroke="#8a4516" stroke-width="0.4"/>
<circle cx="271.7" cy="560.3" r="1.9" fill="#d27c3c" stroke="#8a4516" stroke-width="0.4"/>
<circle cx="369.4" cy="562.1" r="1.6" fill="#bd692b" stroke="#8a4516" stroke-width="0.4"/>
<circle cx="330.7" cy="567.0" r="1.0" fill="#e9a868" stroke="#8a4516" stroke-width="0.4"/>
<circle cx="363.8" cy="567.5" r="2.2" fill="#b05f26" stroke="#8a4516" stroke-width="0.4"/>
<circle cx="269.7" cy="554.9" r="1.2" fill="#b05f26" stroke="#8a4516" stroke-width="0.4"/>
<circle cx="317.2" cy="565.4" r="2.0" fill="#d98545" stroke="#8a4516" stroke-width="0.4"/>
<circle cx="367.1" cy="557.9" r="1.1" fill="#bd692b" stroke="#8a4516" stroke-width="0.4"/>
<circle cx="393.1" cy="561.8" r="1.8" fill="#b05f26" stroke="#8a4516" stroke-width="0.4"/>
<circle cx="370.1" cy="563.4" r="2.2" fill="#d98545" stroke="#8a4516" stroke-width="0.4"/>
<circle cx="407.7" cy="571.6" r="2.2" fill="#e8a66c" stroke="#8a4516" stroke-width="0.4"/>
<circle cx="274.2" cy="563.3" r="2.3" fill="#d27c3c" stroke="#8a4516" stroke-width="0.4"/>
<circle cx="426.0" cy="566.1" r="2.2" fill="#e8a66c" stroke="#8a4516" stroke-width="0.4"/>
<circle cx="262.1" cy="562.0" r="1.5" fill="#d27c3c" stroke="#8a4516" stroke-width="0.4"/>
<circle cx="279.2" cy="566.7" r="2.2" fill="#cc7532" stroke="#8a4516" stroke-width="0.4"/>
<circle cx="296.8" cy="561.1" r="2.4" fill="#e9a868" stroke="#8a4516" stroke-width="0.4"/>
<circle cx="288.3" cy="563.0" r="1.5" fill="#d98545" stroke="#8a4516" stroke-width="0.4"/>
<circle cx="286.6" cy="569.4" r="1.6" fill="#d27c3c" stroke="#8a4516" stroke-width="0.4"/>
<circle cx="375.1" cy="565.9" r="2.2" fill="#e39a5a" stroke="#8a4516" stroke-width="0.4"/>
<circle cx="391.4" cy="561.6" r="1.1" fill="#bd692b" stroke="#8a4516" stroke-width="0.4"/>
<circle cx="427.8" cy="557.7" r="2.0" fill="#e39a5a" stroke="#8a4516" stroke-width="0.4"/>
<circle cx="296.4" cy="565.3" r="1.8" fill="#b05f26" stroke="#8a4516" stroke-width="0.4"/>
<circle cx="385.8" cy="560.1" r="1.6" fill="#cc7532" stroke="#8a4516" stroke-width="0.4"/>
<circle cx="316.3" cy="567.0" r="2.1" fill="#e9a868" stroke="#8a4516" stroke-width="0.4"/>
<circle cx="304.5" cy="555.2" r="1.8" fill="#d27c3c" stroke="#8a4516" stroke-width="0.4"/>
<circle cx="367.6" cy="570.1" r="2.0" fill="#bd692b" stroke="#8a4516" stroke-width="0.4"/>
<circle cx="384.9" cy="562.8" r="2.1" fill="#e8a66c" stroke="#8a4516" stroke-width="0.4"/>
<circle cx="277.5" cy="559.5" r="1.8" fill="#d98545" stroke="#8a4516" stroke-width="0.4"/>
<circle cx="274.3" cy="560.0" r="1.3" fill="#d98545" stroke="#8a4516" stroke-width="0.4"/>
<circle cx="254.1" cy="568.2" r="1.2" fill="#bd692b" stroke="#8a4516" stroke-width="0.4"/>
<circle cx="326.0" cy="563.6" r="1.5" fill="#cc7532" stroke="#8a4516" stroke-width="0.4"/>
<circle cx="287.6" cy="559.5" r="1.2" fill="#e8a66c" stroke="#8a4516" stroke-width="0.4"/>
<circle cx="380.2" cy="559.5" r="1.7" fill="#e39a5a" stroke="#8a4516" stroke-width="0.4"/>
<circle cx="367.4" cy="569.5" r="1.6" fill="#d27c3c" stroke="#8a4516" stroke-width="0.4"/>
<circle cx="428.0" cy="557.2" r="1.1" fill="#bd692b" stroke="#8a4516" stroke-width="0.4"/>
<circle cx="359.4" cy="557.5" r="1.8" fill="#e9a868" stroke="#8a4516" stroke-width="0.4"/>
<circle cx="295.7" cy="560.3" r="2.4" fill="#d98545" stroke="#8a4516" stroke-width="0.4"/>
<circle cx="261.3" cy="566.7" r="1.2" fill="#e39a5a" stroke="#8a4516" stroke-width="0.4"/>
<circle cx="252.3" cy="564.0" r="1.8" fill="#e8a66c" stroke="#8a4516" stroke-width="0.4"/>
<circle cx="276.2" cy="565.6" r="1.8" fill="#b05f26" stroke="#8a4516" stroke-width="0.4"/>
<circle cx="399.7" cy="570.0" r="1.3" fill="#d27c3c" stroke="#8a4516" stroke-width="0.4"/>
<circle cx="264.8" cy="567.8" r="2.0" fill="#cc7532" stroke="#8a4516" stroke-width="0.4"/>
<circle cx="291.6" cy="566.4" r="1.1" fill="#bd692b" stroke="#8a4516" stroke-width="0.4"/>
<circle cx="414.0" cy="565.7" r="2.4" fill="#d27c3c" stroke="#8a4516" stroke-width="0.4"/>
<circle cx="380.9" cy="562.9" r="1.7" fill="#d27c3c" stroke="#8a4516" stroke-width="0.4"/>
<circle cx="304.4" cy="569.8" r="2.4" fill="#e8a66c" stroke="#8a4516" stroke-width="0.4"/>
<circle cx="265.7" cy="560.5" r="2.4" fill="#e8a66c" stroke="#8a4516" stroke-width="0.4"/>
<circle cx="423.8" cy="563.4" r="2.1" fill="#bd692b" stroke="#8a4516" stroke-width="0.4"/>
<circle cx="285.3" cy="558.3" r="1.6" fill="#e9a868" stroke="#8a4516" stroke-width="0.4"/>
<circle cx="251.2" cy="567.9" r="1.0" fill="#e8a66c" stroke="#8a4516" stroke-width="0.4"/>
<circle cx="354.9" cy="562.3" r="1.9" fill="#e39a5a" stroke="#8a4516" stroke-width="0.4"/>
<circle cx="354.0" cy="566.7" r="1.3" fill="#d98545" stroke="#8a4516" stroke-width="0.4"/>
<circle cx="255.0" cy="572.5" r="1.5" fill="#cc7532" stroke="#8a4516" stroke-width="0.4"/>
<circle cx="378.9" cy="570.6" r="1.0" fill="#cc7532" stroke="#8a4516" stroke-width="0.4"/>
<circle cx="377.4" cy="558.3" r="2.1" fill="#e39a5a" stroke="#8a4516" stroke-width="0.4"/>
<circle cx="407.6" cy="557.7" r="2.1" fill="#e8a66c" stroke="#8a4516" stroke-width="0.4"/>
<circle cx="400.4" cy="568.0" r="1.1" fill="#b05f26" stroke="#8a4516" stroke-width="0.4"/>
<circle cx="287.9" cy="564.5" r="2.3" fill="#e39a5a" stroke="#8a4516" stroke-width="0.4"/>
<circle cx="401.8" cy="564.4" r="1.9" fill="#d27c3c" stroke="#8a4516" stroke-width="0.4"/>
<circle cx="274.4" cy="565.4" r="1.4" fill="#bd692b" stroke="#8a4516" stroke-width="0.4"/>
<circle cx="328.0" cy="556.5" r="1.0" fill="#d27c3c" stroke="#8a4516" stroke-width="0.4"/>
<circle cx="421.1" cy="571.6" r="2.4" fill="#e9a868" stroke="#8a4516" stroke-width="0.4"/>
<circle cx="406.7" cy="566.0" r="1.9" fill="#d98545" stroke="#8a4516" stroke-width="0.4"/>
<circle cx="395.2" cy="569.4" r="1.1" fill="#e9a868" stroke="#8a4516" stroke-width="0.4"/>
<circle cx="379.7" cy="564.7" r="1.8" fill="#e8a66c" stroke="#8a4516" stroke-width="0.4"/>
<circle cx="381.4" cy="566.6" r="1.4" fill="#b05f26" stroke="#8a4516" stroke-width="0.4"/>
<circle cx="250.2" cy="557.7" r="1.3" fill="#d98545" stroke="#8a4516" stroke-width="0.4"/>
<circle cx="250.8" cy="557.7" r="2.2" fill="#cc7532" stroke="#8a4516" stroke-width="0.4"/>
<circle cx="428.0" cy="563.8" r="1.9" fill="#d27c3c" stroke="#8a4516" stroke-width="0.4"/>
<circle cx="356.4" cy="568.5" r="2.4" fill="#e8a66c" stroke="#8a4516" stroke-width="0.4"/>
<circle cx="270.2" cy="571.2" r="2.0" fill="#e39a5a" stroke="#8a4516" stroke-width="0.4"/>
<circle cx="432.4" cy="561.3" r="1.5" fill="#e39a5a" stroke="#8a4516" stroke-width="0.4"/>
<circle cx="323.8" cy="562.6" r="1.6" fill="#e39a5a" stroke="#8a4516" stroke-width="0.4"/>
<circle cx="327.7" cy="560.6" r="1.5" fill="#b05f26" stroke="#8a4516" stroke-width="0.4"/>
<circle cx="415.8" cy="559.7" r="1.8" fill="#b05f26" stroke="#8a4516" stroke-width="0.4"/>
<circle cx="430.8" cy="555.3" r="1.2" fill="#d98545" stroke="#8a4516" stroke-width="0.4"/>
<circle cx="314.1" cy="554.7" r="1.5" fill="#cc7532" stroke="#8a4516" stroke-width="0.4"/>
<circle cx="409.7" cy="557.5" r="1.5" fill="#e9a868" stroke="#8a4516" stroke-width="0.4"/>
<circle cx="330.7" cy="565.5" r="2.2" fill="#e8a66c" stroke="#8a4516" stroke-width="0.4"/>
<circle cx="293.8" cy="566.0" r="1.3" fill="#d27c3c" stroke="#8a4516" stroke-width="0.4"/>
<circle cx="388.9" cy="566.7" r="2.1" fill="#e8a66c" stroke="#8a4516" stroke-width="0.4"/>
<circle cx="383.1" cy="557.4" r="1.9" fill="#bd692b" stroke="#8a4516" stroke-width="0.4"/>
<circle cx="279.6" cy="562.0" r="2.5" fill="#e39a5a" stroke="#8a4516" stroke-width="0.4"/>
<circle cx="280.3" cy="566.4" r="2.0" fill="#e8a66c" stroke="#8a4516" stroke-width="0.4"/>
<circle cx="320.7" cy="572.4" r="2.1" fill="#b05f26" stroke="#8a4516" stroke-width="0.4"/>
<circle cx="300.4" cy="562.6" r="1.2" fill="#e39a5a" stroke="#8a4516" stroke-width="0.4"/>
<circle cx="301.7" cy="567.7" r="1.0" fill="#b05f26" stroke="#8a4516" stroke-width="0.4"/>
<circle cx="377.6" cy="559.8" r="1.8" fill="#d27c3c" stroke="#8a4516" stroke-width="0.4"/>
<circle cx="276.1" cy="559.5" r="2.1" fill="#b05f26" stroke="#8a4516" stroke-width="0.4"/>
<circle cx="379.0" cy="560.4" r="1.9" fill="#b05f26" stroke="#8a4516" stroke-width="0.4"/>
<circle cx="405.7" cy="559.9" r="2.3" fill="#e8a66c" stroke="#8a4516" stroke-width="0.4"/>
<circle cx="375.0" cy="557.2" r="2.0" fill="#e9a868" stroke="#8a4516" stroke-width="0.4"/>
<circle cx="329.6" cy="563.0" r="2.3" fill="#e8a66c" stroke="#8a4516" stroke-width="0.4"/>
<circle cx="394.0" cy="571.3" r="2.1" fill="#cc7532" stroke="#8a4516" stroke-width="0.4"/>
<circle cx="296.0" cy="558.6" r="1.9" fill="#b05f26" stroke="#8a4516" stroke-width="0.4"/>
<circle cx="371.6" cy="566.0" r="2.3" fill="#bd692b" stroke="#8a4516" stroke-width="0.4"/>
<circle cx="393.2" cy="559.1" r="2.5" fill="#d98545" stroke="#8a4516" stroke-width="0.4"/>
<circle cx="296.2" cy="567.2" r="1.3" fill="#e8a66c" stroke="#8a4516" stroke-width="0.4"/>
<circle cx="268.6" cy="557.9" r="2.1" fill="#d98545" stroke="#8a4516" stroke-width="0.4"/>
<circle cx="367.6" cy="560.7" r="2.2" fill="#bd692b" stroke="#8a4516" stroke-width="0.4"/>
<circle cx="325.5" cy="566.8" r="2.0" fill="#b05f26" stroke="#8a4516" stroke-width="0.4"/>
<circle cx="421.6" cy="562.4" r="2.1" fill="#bd692b" stroke="#8a4516" stroke-width="0.4"/>
<circle cx="367.3" cy="563.4" r="1.1" fill="#e39a5a" stroke="#8a4516" stroke-width="0.4"/>
<circle cx="327.0" cy="568.4" r="1.6" fill="#bd692b" stroke="#8a4516" stroke-width="0.4"/>
<circle cx="356.8" cy="566.8" r="1.6" fill="#e8a66c" stroke="#8a4516" stroke-width="0.4"/>
<circle cx="432.9" cy="566.2" r="2.4" fill="#e9a868" stroke="#8a4516" stroke-width="0.4"/>
<circle cx="289.0" cy="569.5" r="2.2" fill="#e8a66c" stroke="#8a4516" stroke-width="0.4"/>
<circle cx="353.4" cy="569.8" r="1.3" fill="#cc7532" stroke="#8a4516" stroke-width="0.4"/>
<circle cx="315.0" cy="557.6" r="2.2" fill="#e9a868" stroke="#8a4516" stroke-width="0.4"/>
<circle cx="433.3" cy="556.4" r="2.1" fill="#cc7532" stroke="#8a4516" stroke-width="0.4"/>
<circle cx="393.5" cy="554.9" r="1.3" fill="#b05f26" stroke="#8a4516" stroke-width="0.4"/>
<circle cx="376.5" cy="565.2" r="2.5" fill="#cc7532" stroke="#8a4516" stroke-width="0.4"/>
<circle cx="398.2" cy="564.9" r="2.0" fill="#bd692b" stroke="#8a4516" stroke-width="0.4"/>
<circle cx="328.8" cy="559.0" r="2.0" fill="#bd692b" stroke="#8a4516" stroke-width="0.4"/>
<circle cx="278.1" cy="561.9" r="1.1" fill="#bd692b" stroke="#8a4516" stroke-width="0.4"/>
<circle cx="394.3" cy="568.2" r="1.2" fill="#bd692b" stroke="#8a4516" stroke-width="0.4"/>
<circle cx="366.5" cy="564.3" r="2.4" fill="#d27c3c" stroke="#8a4516" stroke-width="0.4"/>
<circle cx="296.0" cy="563.6" r="1.2" fill="#cc7532" stroke="#8a4516" stroke-width="0.4"/>
<circle cx="407.2" cy="565.7" r="2.2" fill="#e8a66c" stroke="#8a4516" stroke-width="0.4"/>
<circle cx="416.4" cy="568.5" r="2.2" fill="#cc7532" stroke="#8a4516" stroke-width="0.4"/>
<circle cx="362.2" cy="558.3" r="1.1" fill="#d27c3c" stroke="#8a4516" stroke-width="0.4"/>
<circle cx="377.5" cy="555.4" r="1.7" fill="#e39a5a" stroke="#8a4516" stroke-width="0.4"/>
<circle cx="352.1" cy="561.9" r="1.4" fill="#e8a66c" stroke="#8a4516" stroke-width="0.4"/>
<circle cx="402.2" cy="557.2" r="1.7" fill="#cc7532" stroke="#8a4516" stroke-width="0.4"/>
<circle cx="378.9" cy="564.6" r="1.4" fill="#cc7532" stroke="#8a4516" stroke-width="0.4"/>
<circle cx="408.8" cy="573.1" r="1.7" fill="#e9a868" stroke="#8a4516" stroke-width="0.4"/>
<circle cx="372.4" cy="563.9" r="2.3" fill="#bd692b" stroke="#8a4516" stroke-width="0.4"/>
<circle cx="328.3" cy="571.0" r="1.3" fill="#bd692b" stroke="#8a4516" stroke-width="0.4"/>
<circle cx="367.0" cy="563.5" r="1.0" fill="#d98545" stroke="#8a4516" stroke-width="0.4"/>
<circle cx="375.6" cy="567.6" r="2.5" fill="#e9a868" stroke="#8a4516" stroke-width="0.4"/>
<circle cx="415.2" cy="561.6" r="1.1" fill="#b05f26" stroke="#8a4516" stroke-width="0.4"/>
<circle cx="365.1" cy="558.2" r="1.5" fill="#e9a868" stroke="#8a4516" stroke-width="0.4"/>
<circle cx="393.2" cy="571.9" r="1.8" fill="#e8a66c" stroke="#8a4516" stroke-width="0.4"/>
<circle cx="302.3" cy="561.4" r="1.1" fill="#d27c3c" stroke="#8a4516" stroke-width="0.4"/>
<circle cx="303.9" cy="566.7" r="2.2" fill="#b05f26" stroke="#8a4516" stroke-width="0.4"/>
<circle cx="311.4" cy="573.6" r="1.5" fill="#e8a66c" stroke="#8a4516" stroke-width="0.4"/>
<circle cx="370.4" cy="562.5" r="2.2" fill="#bd692b" stroke="#8a4516" stroke-width="0.4"/>
<circle cx="285.4" cy="562.9" r="2.5" fill="#e39a5a" stroke="#8a4516" stroke-width="0.4"/>
<circle cx="394.3" cy="561.0" r="1.1" fill="#b05f26" stroke="#8a4516" stroke-width="0.4"/>
<circle cx="350.4" cy="567.5" r="1.0" fill="#e8a66c" stroke="#8a4516" stroke-width="0.4"/>
<circle cx="401.2" cy="564.8" r="1.7" fill="#d98545" stroke="#8a4516" stroke-width="0.4"/>
<circle cx="395.2" cy="569.3" r="1.9" fill="#e39a5a" stroke="#8a4516" stroke-width="0.4"/>
<circle cx="289.1" cy="559.8" r="2.0" fill="#e9a868" stroke="#8a4516" stroke-width="0.4"/>
<circle cx="365.1" cy="566.9" r="2.3" fill="#b05f26" stroke="#8a4516" stroke-width="0.4"/>
<circle cx="392.5" cy="570.1" r="2.4" fill="#d98545" stroke="#8a4516" stroke-width="0.4"/>
<circle cx="317.9" cy="567.4" r="1.8" fill="#d27c3c" stroke="#8a4516" stroke-width="0.4"/>
<circle cx="408.7" cy="555.6" r="1.3" fill="#d98545" stroke="#8a4516" stroke-width="0.4"/>
<circle cx="308.6" cy="557.0" r="2.4" fill="#d98545" stroke="#8a4516" stroke-width="0.4"/>
<circle cx="401.8" cy="566.5" r="2.2" fill="#b05f26" stroke="#8a4516" stroke-width="0.4"/>
<circle cx="355.9" cy="568.2" r="1.0" fill="#b05f26" stroke="#8a4516" stroke-width="0.4"/>
<circle cx="359.3" cy="560.8" r="2.5" fill="#cc7532" stroke="#8a4516" stroke-width="0.4"/>
<circle cx="325.9" cy="569.3" r="1.3" fill="#cc7532" stroke="#8a4516" stroke-width="0.4"/>
<circle cx="365.3" cy="567.8" r="1.6" fill="#d98545" stroke="#8a4516" stroke-width="0.4"/>
<circle cx="375.8" cy="572.9" r="1.1" fill="#e39a5a" stroke="#8a4516" stroke-width="0.4"/>
<circle cx="273.7" cy="572.5" r="1.0" fill="#e8a66c" stroke="#8a4516" stroke-width="0.4"/>
<circle cx="386.9" cy="567.7" r="2.1" fill="#cc7532" stroke="#8a4516" stroke-width="0.4"/>
<circle cx="384.3" cy="561.3" r="1.1" fill="#e9a868" stroke="#8a4516" stroke-width="0.4"/>
<circle cx="421.6" cy="563.2" r="2.1" fill="#d98545" stroke="#8a4516" stroke-width="0.4"/>
<circle cx="412.5" cy="560.8" r="1.6" fill="#d27c3c" stroke="#8a4516" stroke-width="0.4"/>
<circle cx="384.2" cy="557.1" r="1.2" fill="#e9a868" stroke="#8a4516" stroke-width="0.4"/>
<circle cx="362.0" cy="558.6" r="2.1" fill="#e9a868" stroke="#8a4516" stroke-width="0.4"/>
<circle cx="276.7" cy="564.9" r="2.0" fill="#b05f26" stroke="#8a4516" stroke-width="0.4"/>
<circle cx="393.2" cy="559.0" r="1.7" fill="#d27c3c" stroke="#8a4516" stroke-width="0.4"/>
<circle cx="394.4" cy="559.7" r="1.1" fill="#bd692b" stroke="#8a4516" stroke-width="0.4"/>
<circle cx="410.0" cy="561.8" r="2.1" fill="#d98545" stroke="#8a4516" stroke-width="0.4"/>
<circle cx="403.0" cy="560.0" r="1.6" fill="#e8a66c" stroke="#8a4516" stroke-width="0.4"/>
<circle cx="319.3" cy="561.0" r="2.0" fill="#e8a66c" stroke="#8a4516" stroke-width="0.4"/>
<circle cx="398.6" cy="563.4" r="1.4" fill="#b05f26" stroke="#8a4516" stroke-width="0.4"/>
<circle cx="278.9" cy="563.8" r="2.4" fill="#d98545" stroke="#8a4516" stroke-width="0.4"/>
<circle cx="303.1" cy="570.2" r="2.5" fill="#cc7532" stroke="#8a4516" stroke-width="0.4"/>
<circle cx="300.4" cy="571.6" r="2.3" fill="#e9a868" stroke="#8a4516" stroke-width="0.4"/>
<circle cx="313.8" cy="569.0" r="2.2" fill="#e8a66c" stroke="#8a4516" stroke-width="0.4"/>
<circle cx="394.9" cy="566.7" r="2.1" fill="#e8a66c" stroke="#8a4516" stroke-width="0.4"/>
<circle cx="306.9" cy="568.2" r="2.1" fill="#d27c3c" stroke="#8a4516" stroke-width="0.4"/>
<circle cx="357.9" cy="565.3" r="1.0" fill="#b05f26" stroke="#8a4516" stroke-width="0.4"/>
<circle cx="266.1" cy="566.5" r="1.3" fill="#d27c3c" stroke="#8a4516" stroke-width="0.4"/>
<circle cx="412.9" cy="555.4" r="1.8" fill="#e9a868" stroke="#8a4516" stroke-width="0.4"/>
<circle cx="287.1" cy="564.0" r="2.2" fill="#d27c3c" stroke="#8a4516" stroke-width="0.4"/>
<circle cx="316.8" cy="565.6" r="1.8" fill="#b05f26" stroke="#8a4516" stroke-width="0.4"/>
<circle cx="393.5" cy="565.8" r="2.4" fill="#e9a868" stroke="#8a4516" stroke-width="0.4"/>
<circle cx="318.8" cy="560.6" r="1.2" fill="#e9a868" stroke="#8a4516" stroke-width="0.4"/>
<circle cx="394.9" cy="567.2" r="1.5" fill="#d98545" stroke="#8a4516" stroke-width="0.4"/>
<circle cx="267.3" cy="569.1" r="1.3" fill="#e9a868" stroke="#8a4516" stroke-width="0.4"/>
<circle cx="358.0" cy="566.1" r="1.4" fill="#e39a5a" stroke="#8a4516" stroke-width="0.4"/>
<circle cx="391.2" cy="568.9" r="1.4" fill="#d98545" stroke="#8a4516" stroke-width="0.4"/>
<circle cx="433.0" cy="562.6" r="1.1" fill="#bd692b" stroke="#8a4516" stroke-width="0.4"/>
<circle cx="410.2" cy="564.3" r="1.7" fill="#e39a5a" stroke="#8a4516" stroke-width="0.4"/>
<circle cx="408.8" cy="556.3" r="2.1" fill="#e39a5a" stroke="#8a4516" stroke-width="0.4"/>
<circle cx="297.3" cy="554.8" r="1.8" fill="#e39a5a" stroke="#8a4516" stroke-width="0.4"/>
<circle cx="426.0" cy="561.1" r="1.7" fill="#cc7532" stroke="#8a4516" stroke-width="0.4"/>
<circle cx="318.2" cy="559.1" r="1.4" fill="#e8a66c" stroke="#8a4516" stroke-width="0.4"/>
<circle cx="260.9" cy="559.2" r="1.8" fill="#d98545" stroke="#8a4516" stroke-width="0.4"/>
<circle cx="404.0" cy="571.9" r="2.1" fill="#e9a868" stroke="#8a4516" stroke-width="0.4"/>
<circle cx="260.3" cy="566.1" r="1.2" fill="#d98545" stroke="#8a4516" stroke-width="0.4"/>
<circle cx="422.8" cy="561.6" r="1.9" fill="#e39a5a" stroke="#8a4516" stroke-width="0.4"/>
<circle cx="318.4" cy="559.7" r="1.6" fill="#bd692b" stroke="#8a4516" stroke-width="0.4"/>
<circle cx="281.0" cy="563.7" r="2.0" fill="#d98545" stroke="#8a4516" stroke-width="0.4"/>
<circle cx="417.9" cy="566.3" r="2.2" fill="#cc7532" stroke="#8a4516" stroke-width="0.4"/>
<circle cx="420.7" cy="565.6" r="2.3" fill="#cc7532" stroke="#8a4516" stroke-width="0.4"/>
<circle cx="426.3" cy="567.9" r="1.0" fill="#e39a5a" stroke="#8a4516" stroke-width="0.4"/>
<circle cx="312.5" cy="561.3" r="2.2" fill="#e9a868" stroke="#8a4516" stroke-width="0.4"/>
<circle cx="271.3" cy="560.5" r="2.1" fill="#cc7532" stroke="#8a4516" stroke-width="0.4"/>
<circle cx="381.3" cy="566.8" r="1.8" fill="#cc7532" stroke="#8a4516" stroke-width="0.4"/>
<circle cx="330.8" cy="566.6" r="1.4" fill="#d98545" stroke="#8a4516" stroke-width="0.4"/>
<circle cx="299.9" cy="567.7" r="2.3" fill="#bd692b" stroke="#8a4516" stroke-width="0.4"/>
<circle cx="398.0" cy="563.3" r="1.7" fill="#e9a868" stroke="#8a4516" stroke-width="0.4"/>
<circle cx="271.0" cy="565.9" r="2.5" fill="#d98545" stroke="#8a4516" stroke-width="0.4"/>
<circle cx="366.1" cy="566.2" r="1.8" fill="#d27c3c" stroke="#8a4516" stroke-width="0.4"/>
<circle cx="388.9" cy="568.7" r="1.4" fill="#e8a66c" stroke="#8a4516" stroke-width="0.4"/>
<circle cx="420.2" cy="562.5" r="1.1" fill="#d27c3c" stroke="#8a4516" stroke-width="0.4"/>
<circle cx="326.5" cy="568.5" r="2.5" fill="#cc7532" stroke="#8a4516" stroke-width="0.4"/>
<circle cx="430.1" cy="571.5" r="1.0" fill="#bd692b" stroke="#8a4516" stroke-width="0.4"/>
<circle cx="331.5" cy="566.5" r="1.4" fill="#bd692b" stroke="#8a4516" stroke-width="0.4"/>
<circle cx="417.8" cy="564.8" r="1.2" fill="#cc7532" stroke="#8a4516" stroke-width="0.4"/>
<circle cx="292.4" cy="569.9" r="1.3" fill="#e39a5a" stroke="#8a4516" stroke-width="0.4"/>
<circle cx="402.5" cy="569.7" r="2.1" fill="#cc7532" stroke="#8a4516" stroke-width="0.4"/>
<circle cx="287.9" cy="558.3" r="1.9" fill="#e8a66c" stroke="#8a4516" stroke-width="0.4"/>
<circle cx="357.3" cy="564.0" r="2.1" fill="#b05f26" stroke="#8a4516" stroke-width="0.4"/>
<circle cx="404.8" cy="565.3" r="2.4" fill="#bd692b" stroke="#8a4516" stroke-width="0.4"/>
<circle cx="311.7" cy="569.0" r="1.7" fill="#d98545" stroke="#8a4516" stroke-width="0.4"/>
<circle cx="325.4" cy="555.1" r="2.1" fill="#cc7532" stroke="#8a4516" stroke-width="0.4"/>
<circle cx="410.5" cy="563.2" r="2.2" fill="#bd692b" stroke="#8a4516" stroke-width="0.4"/>
<circle cx="256.7" cy="566.7" r="2.1" fill="#d98545" stroke="#8a4516" stroke-width="0.4"/>
<circle cx="263.1" cy="558.1" r="1.5" fill="#e8a66c" stroke="#8a4516" stroke-width="0.4"/>
<circle cx="400.2" cy="566.4" r="2.1" fill="#b05f26" stroke="#8a4516" stroke-width="0.4"/>
<circle cx="356.0" cy="560.2" r="2.3" fill="#d27c3c" stroke="#8a4516" stroke-width="0.4"/>
<circle cx="410.6" cy="569.1" r="1.8" fill="#cc7532" stroke="#8a4516" stroke-width="0.4"/>
<circle cx="253.8" cy="561.8" r="2.5" fill="#e8a66c" stroke="#8a4516" stroke-width="0.4"/>
<circle cx="363.9" cy="565.6" r="1.8" fill="#d98545" stroke="#8a4516" stroke-width="0.4"/>
<circle cx="253.6" cy="567.3" r="2.4" fill="#e8a66c" stroke="#8a4516" stroke-width="0.4"/>
<circle cx="298.1" cy="567.2" r="1.7" fill="#e8a66c" stroke="#8a4516" stroke-width="0.4"/>
<circle cx="379.3" cy="557.4" r="1.2" fill="#e39a5a" stroke="#8a4516" stroke-width="0.4"/>
<circle cx="381.9" cy="566.0" r="1.7" fill="#d27c3c" stroke="#8a4516" stroke-width="0.4"/>
<circle cx="270.2" cy="564.2" r="1.2" fill="#cc7532" stroke="#8a4516" stroke-width="0.4"/>
<circle cx="291.8" cy="564.6" r="1.7" fill="#b05f26" stroke="#8a4516" stroke-width="0.4"/>
<circle cx="280.2" cy="570.9" r="2.2" fill="#b05f26" stroke="#8a4516" stroke-width="0.4"/>
<circle cx="377.7" cy="557.9" r="1.1" fill="#d98545" stroke="#8a4516" stroke-width="0.4"/>
<circle cx="393.0" cy="559.6" r="1.5" fill="#e8a66c" stroke="#8a4516" stroke-width="0.4"/>
<circle cx="404.3" cy="561.4" r="1.8" fill="#bd692b" stroke="#8a4516" stroke-width="0.4"/>
<circle cx="406.0" cy="569.2" r="2.4" fill="#bd692b" stroke="#8a4516" stroke-width="0.4"/>
<circle cx="295.9" cy="565.5" r="1.6" fill="#d98545" stroke="#8a4516" stroke-width="0.4"/>
<circle cx="317.1" cy="561.6" r="1.6" fill="#d98545" stroke="#8a4516" stroke-width="0.4"/>
<circle cx="291.5" cy="563.1" r="1.6" fill="#b05f26" stroke="#8a4516" stroke-width="0.4"/>
<circle cx="392.9" cy="570.0" r="2.2" fill="#d98545" stroke="#8a4516" stroke-width="0.4"/>
<circle cx="256.3" cy="560.8" r="2.0" fill="#d27c3c" stroke="#8a4516" stroke-width="0.4"/>
<circle cx="418.9" cy="558.5" r="2.2" fill="#d98545" stroke="#8a4516" stroke-width="0.4"/>
<circle cx="364.3" cy="558.6" r="1.4" fill="#d98545" stroke="#8a4516" stroke-width="0.4"/>
<circle cx="329.8" cy="567.4" r="1.5" fill="#cc7532" stroke="#8a4516" stroke-width="0.4"/>
<circle cx="272.2" cy="562.2" r="1.9" fill="#d27c3c" stroke="#8a4516" stroke-width="0.4"/>
<circle cx="331.0" cy="557.3" r="1.8" fill="#d27c3c" stroke="#8a4516" stroke-width="0.4"/>
<circle cx="418.5" cy="560.0" r="2.1" fill="#d27c3c" stroke="#8a4516" stroke-width="0.4"/>
<circle cx="404.5" cy="561.6" r="1.9" fill="#e8a66c" stroke="#8a4516" stroke-width="0.4"/>
<circle cx="369.7" cy="565.9" r="1.7" fill="#d27c3c" stroke="#8a4516" stroke-width="0.4"/>
<circle cx="362.8" cy="571.0" r="1.7" fill="#d27c3c" stroke="#8a4516" stroke-width="0.4"/>
<circle cx="255.7" cy="561.9" r="1.8" fill="#b05f26" stroke="#8a4516" stroke-width="0.4"/>
<circle cx="252.2" cy="566.3" r="1.5" fill="#e8a66c" stroke="#8a4516" stroke-width="0.4"/>
<circle cx="309.6" cy="561.7" r="2.3" fill="#e8a66c" stroke="#8a4516" stroke-width="0.4"/>
<circle cx="304.4" cy="567.0" r="2.2" fill="#cc7532" stroke="#8a4516" stroke-width="0.4"/>
<circle cx="351.4" cy="595.7" r="0.9" fill="#c26a2e"/>
<circle cx="403.5" cy="590.4" r="1.4" fill="#a85a24"/>
<circle cx="432.0" cy="597.2" r="1.5" fill="#5a2a0c"/>
<circle cx="312.0" cy="590.4" r="1.3" fill="#e08a48"/>
<circle cx="401.1" cy="593.9" r="1.3" fill="#5a2a0c"/>
<circle cx="299.4" cy="596.2" r="1.2" fill="#a85a24"/>
<circle cx="326.0" cy="585.2" r="1.0" fill="#c26a2e"/>
<circle cx="427.1" cy="595.0" r="1.0" fill="#e08a48"/>
<circle cx="410.6" cy="595.8" r="1.0" fill="#5a2a0c"/>
<circle cx="377.4" cy="589.0" r="1.0" fill="#e08a48"/>
<circle cx="321.9" cy="594.7" r="1.0" fill="#e08a48"/>
<circle cx="251.2" cy="598.7" r="1.6" fill="#5a2a0c"/>
<circle cx="331.7" cy="586.9" r="0.9" fill="#a85a24"/>
<circle cx="330.2" cy="590.9" r="0.8" fill="#e08a48"/>
<circle cx="309.6" cy="600.7" r="1.4" fill="#e08a48"/>
<circle cx="287.6" cy="592.0" r="1.5" fill="#c26a2e"/>
<circle cx="254.7" cy="588.4" r="1.5" fill="#e08a48"/>
<circle cx="419.3" cy="599.2" r="1.1" fill="#5a2a0c"/>
<circle cx="376.1" cy="591.2" r="1.0" fill="#e08a48"/>
<circle cx="251.9" cy="584.4" r="0.8" fill="#5a2a0c"/>
<circle cx="318.9" cy="591.4" r="1.2" fill="#a85a24"/>
<circle cx="411.9" cy="603.3" r="1.1" fill="#5a2a0c"/>
<circle cx="391.2" cy="601.9" r="1.2" fill="#c26a2e"/>
<circle cx="281.4" cy="589.7" r="1.6" fill="#e08a48"/>
<circle cx="270.3" cy="601.8" r="1.3" fill="#5a2a0c"/>
<circle cx="366.1" cy="594.0" r="1.4" fill="#a85a24"/>
<circle cx="284.6" cy="586.8" r="1.2" fill="#c26a2e"/>
<circle cx="315.0" cy="603.9" r="1.2" fill="#c26a2e"/>
<circle cx="377.3" cy="583.2" r="0.6" fill="#c26a2e"/>
<circle cx="418.7" cy="591.3" r="0.7" fill="#c26a2e"/>
<circle cx="372.9" cy="587.1" r="1.1" fill="#e08a48"/>
<circle cx="410.3" cy="601.8" r="1.1" fill="#a85a24"/>
<circle cx="355.7" cy="591.6" r="0.7" fill="#a85a24"/>
<circle cx="315.6" cy="594.0" r="2.6" fill="#e89a60"/>
<circle cx="354.5" cy="586.7" r="2.2" fill="#e89a60"/>
<circle cx="412.5" cy="587.6" r="2.3" fill="#e89a60"/>
<circle cx="267.0" cy="583.5" r="2.0" fill="#e89a60"/>
<circle cx="373.0" cy="586.0" r="1.8" fill="#e89a60"/></g>
<!-- inner pipe -->
<path d="M332 693 Q332 689.5 335.5 689.5 L337 690.5 L340.6 693.5 L344.5 690.5 L346.5 689.5 Q350.3 689.5 350.3 693 L348.5 750 L347.3 786 L340.6 797.5 L334.5 786 L333.5 750 Z" fill="#5b7b90" stroke="#3a2a20" stroke-width="1"/>
</g>
<g id="colb"><circle cx="333.7" cy="426.9" r="4.7" fill="#f8c89c"/>
<circle cx="345.4" cy="437.1" r="5.0" fill="#f8c89c"/>
<circle cx="334.3" cy="450.9" r="3.2" fill="#f8c89c"/>
<circle cx="345.4" cy="449.7" r="3.5" fill="#f8c89c"/>
<circle cx="340.1" cy="463.5" r="2.6" fill="#f8c89c"/>
<circle cx="354.8" cy="437.1" r="2.3" fill="#f8c89c"/>
<circle cx="345.4" cy="426.0" r="2.3" fill="#f8c89c"/>
<circle cx="352.2" cy="424.5" r="1.5" fill="#f8c89c"/>
<circle cx="327.8" cy="432.2" r="1.5" fill="#f8c89c"/>
<circle cx="341.0" cy="421.0" r="1.2" fill="#f8c89c"/>
<circle cx="350.7" cy="430.7" r="1.2" fill="#f8c89c"/>
<circle cx="335.2" cy="438.6" r="1.2" fill="#f8c89c"/>
<circle cx="331.4" cy="445.3" r="1.2" fill="#f8c89c"/>
<circle cx="352.7" cy="445.3" r="1.2" fill="#f8c89c"/>
<circle cx="339.6" cy="444.5" r="1.0" fill="#f8c89c"/>
<circle cx="349.8" cy="457.0" r="1.2" fill="#f8c89c"/>
<circle cx="337.5" cy="457.0" r="1.0" fill="#f8c89c"/>
<circle cx="344.8" cy="459.0" r="1.2" fill="#f8c89c"/>
<circle cx="352.0" cy="452.0" r="1.0" fill="#f8c89c"/>
<circle cx="347.0" cy="466.0" r="1.0" fill="#f8c89c"/>
<circle cx="330.0" cy="440.0" r="0.9" fill="#f8c89c"/>
<circle cx="368.7" cy="531.4" r="0.7" fill="#f4a45a"/>
<circle cx="376.1" cy="520.5" r="0.9" fill="#f4a45a"/>
<circle cx="354.9" cy="515.5" r="1.4" fill="#f4a45a"/>
<circle cx="302.2" cy="531.4" r="1.4" fill="#f4a45a"/>
<circle cx="350.3" cy="504.5" r="1.4" fill="#f7b878"/>
<circle cx="361.0" cy="515.6" r="1.4" fill="#f7b878"/>
<circle cx="313.7" cy="520.4" r="1.1" fill="#f4a45a"/>
<circle cx="316.8" cy="521.6" r="1.3" fill="#e8853a"/>
<circle cx="363.1" cy="520.6" r="1.0" fill="#f7b878"/>
<circle cx="331.0" cy="505.5" r="1.3" fill="#e8853a"/>
<circle cx="363.4" cy="511.6" r="0.8" fill="#f08f40"/>
<circle cx="326.3" cy="525.7" r="1.3" fill="#f4a45a"/>
<circle cx="310.2" cy="525.9" r="1.8" fill="#e8853a"/>
<circle cx="370.5" cy="523.9" r="1.4" fill="#f08f40"/>
<circle cx="292.5" cy="528.2" r="1.3" fill="#f4a45a"/>
<circle cx="320.8" cy="524.9" r="1.4" fill="#f08f40"/>
<circle cx="381.5" cy="524.5" r="1.1" fill="#f08f40"/>
<circle cx="350.9" cy="508.0" r="0.7" fill="#e8853a"/>
<circle cx="317.4" cy="525.2" r="1.9" fill="#f08f40"/>
<circle cx="329.0" cy="508.0" r="1.0" fill="#f7b878"/>
<circle cx="362.0" cy="528.9" r="1.2" fill="#e8853a"/>
<circle cx="357.2" cy="531.7" r="0.8" fill="#f7b878"/>
<circle cx="332.3" cy="503.4" r="0.9" fill="#e8853a"/>
<circle cx="328.6" cy="507.4" r="1.5" fill="#e8853a"/>
<circle cx="314.4" cy="523.7" r="1.5" fill="#f4a45a"/>
<circle cx="385.0" cy="530.0" r="1.8" fill="#f08f40"/>
<circle cx="352.0" cy="515.0" r="1.5" fill="#f4a45a"/>
<circle cx="331.5" cy="505.0" r="0.8" fill="#e8853a"/>
<circle cx="329.6" cy="506.1" r="1.4" fill="#e8853a"/>
<circle cx="331.5" cy="505.1" r="1.1" fill="#e8853a"/>
<circle cx="364.1" cy="521.1" r="0.8" fill="#f08f40"/>
<circle cx="357.3" cy="517.4" r="0.8" fill="#e8853a"/>
<circle cx="366.2" cy="517.4" r="1.3" fill="#f7b878"/>
<circle cx="353.5" cy="507.4" r="0.6" fill="#e8853a"/>
<circle cx="323.0" cy="523.9" r="1.1" fill="#f7b878"/>
<circle cx="370.4" cy="526.2" r="1.7" fill="#e8853a"/>
<circle cx="308.1" cy="521.4" r="1.7" fill="#f7b878"/>
<circle cx="301.9" cy="527.5" r="0.9" fill="#f08f40"/>
<circle cx="385.9" cy="524.9" r="1.7" fill="#f08f40"/>
<circle cx="355.4" cy="508.8" r="1.1" fill="#e8853a"/>
<circle cx="350.3" cy="505.4" r="1.3" fill="#e8853a"/>
<circle cx="308.7" cy="517.5" r="1.5" fill="#f4a45a"/>
<circle cx="365.6" cy="530.3" r="1.5" fill="#f4a45a"/>
<circle cx="379.2" cy="526.5" r="1.3" fill="#f7b878"/>
<circle cx="363.0" cy="526.7" r="1.7" fill="#f08f40"/>
<circle cx="368.4" cy="515.0" r="1.6" fill="#f7b878"/></g>
<g id="tubesp"><circle cx="323.1" cy="764.1" r="0.4" fill="#c8703a" fill-opacity="0.9"/>
<circle cx="331.9" cy="780.9" r="0.8" fill="#b86030" fill-opacity="0.9"/>
<circle cx="324.5" cy="748.8" r="0.7" fill="#c8703a" fill-opacity="0.9"/>
<circle cx="328.0" cy="753.2" r="0.5" fill="#d98a50" fill-opacity="0.9"/>
<circle cx="322.2" cy="745.9" r="0.9" fill="#c8703a" fill-opacity="0.9"/>
<circle cx="325.8" cy="778.4" r="0.6" fill="#c8703a" fill-opacity="0.9"/>
<circle cx="329.9" cy="779.8" r="0.8" fill="#c8703a" fill-opacity="0.9"/>
<circle cx="322.5" cy="773.2" r="0.5" fill="#c8703a" fill-opacity="0.9"/>
<circle cx="332.6" cy="781.7" r="0.5" fill="#c8703a" fill-opacity="0.9"/>
<circle cx="336.4" cy="750.7" r="0.6" fill="#b86030" fill-opacity="0.9"/>
<circle cx="328.9" cy="795.2" r="0.9" fill="#c8703a" fill-opacity="0.9"/>
<circle cx="329.2" cy="779.9" r="0.8" fill="#c8703a" fill-opacity="0.9"/>
<circle cx="324.7" cy="773.3" r="0.8" fill="#c8703a" fill-opacity="0.9"/>
<circle cx="330.0" cy="755.9" r="0.5" fill="#d98a50" fill-opacity="0.9"/>
<circle cx="328.6" cy="767.2" r="0.8" fill="#d98a50" fill-opacity="0.9"/>
<circle cx="326.7" cy="763.4" r="0.7" fill="#d98a50" fill-opacity="0.9"/>
<circle cx="325.3" cy="783.4" r="0.9" fill="#d98a50" fill-opacity="0.9"/>
<circle cx="331.1" cy="754.4" r="0.5" fill="#c8703a" fill-opacity="0.9"/>
<circle cx="324.5" cy="768.6" r="0.6" fill="#d98a50" fill-opacity="0.9"/>
<circle cx="326.7" cy="755.0" r="0.5" fill="#b86030" fill-opacity="0.9"/>
<circle cx="331.3" cy="772.7" r="0.7" fill="#c8703a" fill-opacity="0.9"/>
<circle cx="323.7" cy="760.7" r="0.8" fill="#c8703a" fill-opacity="0.9"/>
<circle cx="331.5" cy="777.0" r="0.8" fill="#d98a50" fill-opacity="0.9"/>
<circle cx="324.5" cy="752.6" r="0.5" fill="#d98a50" fill-opacity="0.9"/>
<circle cx="325.4" cy="765.7" r="0.6" fill="#c8703a" fill-opacity="0.9"/>
<circle cx="345.4" cy="748.5" r="0.7" fill="#d98a50" fill-opacity="0.9"/>
<circle cx="324.9" cy="759.0" r="0.5" fill="#b86030" fill-opacity="0.9"/>
<circle cx="326.4" cy="765.5" r="0.8" fill="#b86030" fill-opacity="0.9"/>
<circle cx="322.8" cy="764.6" r="0.5" fill="#d98a50" fill-opacity="0.9"/>
<circle cx="336.8" cy="770.0" r="0.5" fill="#c8703a" fill-opacity="0.9"/>
<circle cx="327.4" cy="769.8" r="0.5" fill="#c8703a" fill-opacity="0.9"/>
<circle cx="325.8" cy="784.6" r="0.5" fill="#b86030" fill-opacity="0.9"/>
<circle cx="336.8" cy="753.0" r="0.8" fill="#c8703a" fill-opacity="0.9"/>
<circle cx="333.0" cy="770.9" r="0.5" fill="#c8703a" fill-opacity="0.9"/>
<circle cx="331.1" cy="753.1" r="0.6" fill="#d98a50" fill-opacity="0.9"/>
<circle cx="330.6" cy="737.4" r="0.8" fill="#c8703a" fill-opacity="0.9"/>
<circle cx="331.9" cy="762.6" r="0.6" fill="#b86030" fill-opacity="0.9"/>
<circle cx="325.1" cy="738.2" r="0.4" fill="#b86030" fill-opacity="0.9"/>
<circle cx="327.8" cy="756.0" r="0.8" fill="#d98a50" fill-opacity="0.9"/>
<circle cx="330.9" cy="762.5" r="0.5" fill="#d98a50" fill-opacity="0.9"/>
<circle cx="335.9" cy="754.1" r="0.8" fill="#c8703a" fill-opacity="0.9"/>
<circle cx="323.3" cy="776.8" r="0.6" fill="#d98a50" fill-opacity="0.9"/>
<circle cx="333.6" cy="785.1" r="0.7" fill="#b86030" fill-opacity="0.9"/>
<circle cx="327.0" cy="759.3" r="0.8" fill="#b86030" fill-opacity="0.9"/>
<circle cx="322.9" cy="766.2" r="0.9" fill="#b86030" fill-opacity="0.9"/>
<circle cx="327.1" cy="754.1" r="0.4" fill="#b86030" fill-opacity="0.9"/>
<circle cx="328.7" cy="770.0" r="0.8" fill="#b86030" fill-opacity="0.9"/>
<circle cx="324.5" cy="730.3" r="0.7" fill="#c8703a" fill-opacity="0.9"/>
<circle cx="329.9" cy="756.7" r="0.9" fill="#b86030" fill-opacity="0.9"/>
<circle cx="333.4" cy="758.5" r="0.8" fill="#b86030" fill-opacity="0.9"/>
<circle cx="326.4" cy="759.4" r="0.7" fill="#d98a50" fill-opacity="0.9"/>
<circle cx="334.0" cy="761.1" r="0.9" fill="#b86030" fill-opacity="0.9"/>
<circle cx="332.7" cy="749.3" r="0.7" fill="#b86030" fill-opacity="0.9"/>
<circle cx="327.3" cy="752.0" r="0.7" fill="#c8703a" fill-opacity="0.9"/>
<circle cx="325.8" cy="766.6" r="0.9" fill="#b86030" fill-opacity="0.9"/>
<circle cx="328.6" cy="783.6" r="0.9" fill="#b86030" fill-opacity="0.9"/>
<circle cx="329.3" cy="776.8" r="0.9" fill="#c8703a" fill-opacity="0.9"/>
<circle cx="325.8" cy="777.2" r="0.5" fill="#d98a50" fill-opacity="0.9"/>
<circle cx="334.0" cy="782.2" r="0.6" fill="#d98a50" fill-opacity="0.9"/>
<circle cx="329.3" cy="776.4" r="0.7" fill="#d98a50" fill-opacity="0.9"/>
<circle cx="333.8" cy="780.9" r="0.7" fill="#c8703a" fill-opacity="0.9"/>
<circle cx="331.1" cy="760.9" r="0.7" fill="#d98a50" fill-opacity="0.9"/>
<circle cx="327.3" cy="760.9" r="0.6" fill="#c8703a" fill-opacity="0.9"/>
<circle cx="327.7" cy="758.7" r="0.9" fill="#d98a50" fill-opacity="0.9"/>
<circle cx="330.2" cy="760.0" r="0.5" fill="#d98a50" fill-opacity="0.9"/>
<circle cx="327.5" cy="766.4" r="0.8" fill="#d98a50" fill-opacity="0.9"/>
<circle cx="331.5" cy="786.6" r="0.6" fill="#c8703a" fill-opacity="0.9"/>
<circle cx="331.9" cy="778.9" r="0.7" fill="#d98a50" fill-opacity="0.9"/>
<circle cx="330.0" cy="770.7" r="0.4" fill="#d98a50" fill-opacity="0.9"/>
<circle cx="335.9" cy="777.2" r="0.9" fill="#b86030" fill-opacity="0.9"/>
<circle cx="328.3" cy="786.1" r="0.9" fill="#d98a50" fill-opacity="0.9"/>
<circle cx="331.3" cy="782.3" r="0.4" fill="#c8703a" fill-opacity="0.9"/>
<circle cx="324.7" cy="750.5" r="0.9" fill="#b86030" fill-opacity="0.9"/>
<circle cx="326.7" cy="746.7" r="0.4" fill="#b86030" fill-opacity="0.9"/>
<circle cx="337.5" cy="770.2" r="0.8" fill="#d98a50" fill-opacity="0.9"/>
<circle cx="328.0" cy="760.1" r="0.8" fill="#d98a50" fill-opacity="0.9"/>
<circle cx="328.8" cy="753.6" r="0.5" fill="#d98a50" fill-opacity="0.9"/>
<circle cx="327.0" cy="778.1" r="0.7" fill="#d98a50" fill-opacity="0.9"/>
<circle cx="331.0" cy="756.9" r="0.4" fill="#c8703a" fill-opacity="0.9"/>
<circle cx="322.6" cy="758.0" r="0.8" fill="#b86030" fill-opacity="0.9"/>
<circle cx="327.7" cy="768.6" r="0.5" fill="#d98a50" fill-opacity="0.9"/>
<circle cx="326.1" cy="766.0" r="0.5" fill="#b86030" fill-opacity="0.9"/>
<circle cx="327.1" cy="760.5" r="0.5" fill="#c8703a" fill-opacity="0.9"/>
<circle cx="330.2" cy="768.1" r="0.6" fill="#c8703a" fill-opacity="0.9"/>
<circle cx="330.0" cy="779.2" r="0.4" fill="#b86030" fill-opacity="0.9"/>
<circle cx="334.4" cy="746.6" r="0.6" fill="#d98a50" fill-opacity="0.9"/>
<circle cx="330.5" cy="768.1" r="0.8" fill="#d98a50" fill-opacity="0.9"/>
<circle cx="329.6" cy="766.7" r="0.9" fill="#c8703a" fill-opacity="0.9"/>
<circle cx="331.5" cy="761.2" r="0.5" fill="#d98a50" fill-opacity="0.9"/>
<circle cx="331.5" cy="746.2" r="0.7" fill="#d98a50" fill-opacity="0.9"/>
<circle cx="332.8" cy="772.3" r="0.6" fill="#b86030" fill-opacity="0.9"/>
<circle cx="337.4" cy="750.8" r="0.9" fill="#b86030" fill-opacity="0.9"/>
<circle cx="322.3" cy="748.5" r="0.4" fill="#b86030" fill-opacity="0.9"/>
<circle cx="325.4" cy="783.9" r="0.7" fill="#d98a50" fill-opacity="0.9"/>
<circle cx="334.5" cy="761.3" r="0.7" fill="#d98a50" fill-opacity="0.9"/>
<circle cx="333.1" cy="753.1" r="0.7" fill="#c8703a" fill-opacity="0.9"/>
<circle cx="330.4" cy="788.6" r="0.7" fill="#c8703a" fill-opacity="0.9"/>
<circle cx="326.4" cy="754.6" r="0.7" fill="#d98a50" fill-opacity="0.9"/>
<circle cx="326.6" cy="774.0" r="0.6" fill="#d98a50" fill-opacity="0.9"/>
<circle cx="331.4" cy="771.8" r="0.8" fill="#b86030" fill-opacity="0.9"/>
<circle cx="329.0" cy="756.1" r="0.8" fill="#b86030" fill-opacity="0.9"/>
<circle cx="334.1" cy="775.7" r="0.5" fill="#d98a50" fill-opacity="0.9"/>
<circle cx="329.8" cy="781.3" r="0.7" fill="#b86030" fill-opacity="0.9"/>
<circle cx="333.5" cy="777.0" r="0.7" fill="#c8703a" fill-opacity="0.9"/>
<circle cx="333.5" cy="749.0" r="0.8" fill="#c8703a" fill-opacity="0.9"/>
<circle cx="333.1" cy="752.6" r="0.8" fill="#c8703a" fill-opacity="0.9"/>
<circle cx="323.5" cy="764.5" r="0.7" fill="#b86030" fill-opacity="0.9"/>
<circle cx="335.0" cy="797.3" r="0.7" fill="#c8703a" fill-opacity="0.9"/>
<circle cx="334.6" cy="784.4" r="0.4" fill="#c8703a" fill-opacity="0.9"/>
<circle cx="330.4" cy="767.2" r="0.8" fill="#c8703a" fill-opacity="0.9"/>
<circle cx="326.5" cy="767.8" r="0.5" fill="#c8703a" fill-opacity="0.9"/>
<circle cx="321.7" cy="746.4" r="0.7" fill="#b86030" fill-opacity="0.9"/>
<circle cx="331.1" cy="759.8" r="0.8" fill="#d98a50" fill-opacity="0.9"/>
<circle cx="331.7" cy="744.5" r="0.4" fill="#d98a50" fill-opacity="0.9"/>
<circle cx="339.1" cy="770.1" r="0.6" fill="#c8b8a0" fill-opacity="0.8"/>
<circle cx="336.8" cy="758.5" r="0.5" fill="#d8c8b0" fill-opacity="0.8"/>
<circle cx="335.4" cy="770.4" r="0.5" fill="#d8c8b0" fill-opacity="0.8"/>
<circle cx="341.0" cy="753.9" r="0.4" fill="#d8c8b0" fill-opacity="0.8"/>
<circle cx="336.8" cy="759.7" r="0.7" fill="#c8b8a0" fill-opacity="0.8"/>
<circle cx="337.5" cy="763.6" r="0.3" fill="#c8b8a0" fill-opacity="0.8"/>
<circle cx="338.5" cy="776.0" r="0.4" fill="#e8d8c0" fill-opacity="0.8"/>
<circle cx="334.2" cy="742.0" r="0.5" fill="#c8b8a0" fill-opacity="0.8"/>
<circle cx="332.5" cy="757.6" r="0.6" fill="#c8b8a0" fill-opacity="0.8"/>
<circle cx="339.7" cy="763.0" r="0.4" fill="#e8d8c0" fill-opacity="0.8"/>
<circle cx="336.2" cy="762.3" r="0.6" fill="#d8c8b0" fill-opacity="0.8"/>
<circle cx="339.3" cy="782.2" r="0.6" fill="#c8b8a0" fill-opacity="0.8"/>
<circle cx="341.3" cy="735.8" r="0.6" fill="#c8b8a0" fill-opacity="0.8"/>
<circle cx="332.2" cy="777.1" r="0.5" fill="#d8c8b0" fill-opacity="0.8"/>
<circle cx="334.6" cy="773.3" r="0.4" fill="#d8c8b0" fill-opacity="0.8"/>
<circle cx="336.2" cy="760.1" r="0.4" fill="#c8b8a0" fill-opacity="0.8"/>
<circle cx="336.6" cy="751.3" r="0.5" fill="#c8b8a0" fill-opacity="0.8"/>
<circle cx="335.9" cy="772.0" r="0.5" fill="#d8c8b0" fill-opacity="0.8"/>
<circle cx="340.3" cy="763.7" r="0.7" fill="#d8c8b0" fill-opacity="0.8"/>
<circle cx="333.7" cy="747.8" r="0.4" fill="#c8b8a0" fill-opacity="0.8"/>
<circle cx="336.5" cy="776.0" r="0.4" fill="#e8d8c0" fill-opacity="0.8"/>
<circle cx="333.4" cy="754.9" r="0.4" fill="#e8d8c0" fill-opacity="0.8"/>
<circle cx="340.8" cy="765.3" r="0.6" fill="#d8c8b0" fill-opacity="0.8"/>
<circle cx="337.6" cy="745.2" r="0.6" fill="#c8b8a0" fill-opacity="0.8"/>
<circle cx="338.4" cy="741.4" r="0.4" fill="#d8c8b0" fill-opacity="0.8"/>
<circle cx="335.9" cy="752.7" r="0.6" fill="#e8d8c0" fill-opacity="0.8"/>
<circle cx="333.2" cy="779.9" r="0.4" fill="#e8d8c0" fill-opacity="0.8"/>
<circle cx="336.4" cy="751.4" r="0.6" fill="#e8d8c0" fill-opacity="0.8"/>
<circle cx="333.0" cy="794.1" r="0.5" fill="#c8b8a0" fill-opacity="0.8"/>
<circle cx="341.3" cy="748.5" r="0.7" fill="#d8c8b0" fill-opacity="0.8"/>
<circle cx="337.2" cy="763.1" r="0.6" fill="#c8b8a0" fill-opacity="0.8"/>
<circle cx="334.5" cy="768.8" r="0.6" fill="#d8c8b0" fill-opacity="0.8"/>
<circle cx="335.6" cy="758.5" r="0.6" fill="#c8b8a0" fill-opacity="0.8"/>
<circle cx="336.4" cy="747.0" r="0.7" fill="#c8b8a0" fill-opacity="0.8"/>
<circle cx="338.7" cy="765.5" r="0.7" fill="#e8d8c0" fill-opacity="0.8"/>
<circle cx="338.7" cy="776.3" r="0.7" fill="#c8b8a0" fill-opacity="0.8"/>
<circle cx="341.5" cy="758.6" r="0.6" fill="#d8c8b0" fill-opacity="0.8"/>
<circle cx="338.4" cy="753.1" r="0.4" fill="#c8b8a0" fill-opacity="0.8"/>
<circle cx="332.2" cy="756.2" r="0.6" fill="#d8c8b0" fill-opacity="0.8"/>
<circle cx="336.4" cy="753.9" r="0.5" fill="#d8c8b0" fill-opacity="0.8"/>
<circle cx="338.9" cy="755.9" r="0.5" fill="#d8c8b0" fill-opacity="0.8"/>
<circle cx="338.6" cy="780.4" r="0.7" fill="#e8d8c0" fill-opacity="0.8"/>
<circle cx="338.1" cy="763.4" r="0.6" fill="#e8d8c0" fill-opacity="0.8"/>
<circle cx="336.1" cy="767.5" r="0.4" fill="#e8d8c0" fill-opacity="0.8"/>
<circle cx="336.7" cy="760.4" r="0.4" fill="#d8c8b0" fill-opacity="0.8"/>
<circle cx="337.6" cy="772.4" r="0.6" fill="#e8d8c0" fill-opacity="0.8"/>
<circle cx="332.9" cy="763.4" r="0.6" fill="#d8c8b0" fill-opacity="0.8"/>
<circle cx="339.9" cy="766.4" r="0.3" fill="#e8d8c0" fill-opacity="0.8"/>
<circle cx="333.1" cy="748.5" r="0.7" fill="#c8b8a0" fill-opacity="0.8"/>
<circle cx="336.9" cy="775.4" r="0.3" fill="#c8b8a0" fill-opacity="0.8"/>
<circle cx="343.4" cy="804.8" r="0.3" fill="#8a6030" fill-opacity="0.8"/>
<circle cx="345.3" cy="779.0" r="0.4" fill="#8a6030" fill-opacity="0.8"/>
<circle cx="325.6" cy="723.3" r="0.4" fill="#8a6030" fill-opacity="0.8"/>
<circle cx="351.2" cy="716.8" r="0.6" fill="#8a6030" fill-opacity="0.8"/>
<circle cx="338.1" cy="760.8" r="0.5" fill="#8a6030" fill-opacity="0.8"/>
<circle cx="343.1" cy="772.4" r="0.5" fill="#8a6030" fill-opacity="0.8"/>
<circle cx="334.6" cy="780.6" r="0.4" fill="#8a6030" fill-opacity="0.8"/>
<circle cx="349.0" cy="782.8" r="0.6" fill="#8a6030" fill-opacity="0.8"/>
<circle cx="333.8" cy="783.7" r="0.7" fill="#8a6030" fill-opacity="0.8"/>
<circle cx="339.2" cy="735.3" r="0.5" fill="#8a6030" fill-opacity="0.8"/>
<circle cx="357.8" cy="720.9" r="0.3" fill="#8a6030" fill-opacity="0.8"/>
<circle cx="340.1" cy="772.2" r="0.6" fill="#8a6030" fill-opacity="0.8"/>
<circle cx="335.8" cy="805.0" r="0.4" fill="#8a6030" fill-opacity="0.8"/>
<circle cx="350.8" cy="716.8" r="0.3" fill="#8a6030" fill-opacity="0.8"/>
<circle cx="327.1" cy="713.9" r="0.5" fill="#8a6030" fill-opacity="0.8"/>
<circle cx="343.1" cy="725.8" r="0.7" fill="#8a6030" fill-opacity="0.8"/>
<circle cx="335.9" cy="722.6" r="0.4" fill="#8a6030" fill-opacity="0.8"/>
<circle cx="350.0" cy="798.3" r="0.4" fill="#8a6030" fill-opacity="0.8"/>
<circle cx="323.1" cy="784.3" r="0.4" fill="#8a6030" fill-opacity="0.8"/>
<circle cx="359.3" cy="756.9" r="0.6" fill="#8a6030" fill-opacity="0.8"/>
<circle cx="335.1" cy="786.5" r="0.5" fill="#8a6030" fill-opacity="0.8"/>
<circle cx="334.3" cy="796.5" r="0.3" fill="#8a6030" fill-opacity="0.8"/>
<circle cx="349.9" cy="714.4" r="0.6" fill="#8a6030" fill-opacity="0.8"/>
<circle cx="337.3" cy="792.7" r="0.3" fill="#8a6030" fill-opacity="0.8"/>
<circle cx="343.4" cy="748.2" r="0.7" fill="#8a6030" fill-opacity="0.8"/></g>
<g id="arrows" fill="#cee0b9">
<path d="M330.2 418 L336.6 418 L336.6 353.7 L292.7 353.7 L292.7 383 L288.3 383 L296.5 396 L305 383 L300 383 L300 360 L330.2 360 Z"/>
<path d="M352.7 418 L345.4 418 L345.4 353.7 L390 353.7 L390 383 L394.6 383 L386.4 396.5 L378.2 383 L383.5 383 L383.5 360 L352.7 360 Z"/>
<path d="M341 475.8 L354.2 493.7 L348.3 493.7 L348.3 597 Q348.3 600 341 600 Q333.7 600 333.7 597 L333.7 493.7 L327.3 493.7 Z"/>
<path d="M327.3 625.3 L327.3 632.4 L290.4 632.4 L290.4 601 L283.3 601 L295 583.5 L307.3 601 L300.9 601 L300.9 625.3 Z"/>
<path d="M353.6 625.3 L353.6 632.4 L390.8 632.4 L390.8 601 L397.2 601 L385 583.5 L373.2 601 L380 601 L380 625.3 Z"/>
<path d="M334.3 630.3 L347.8 630.3 L347.8 672.8 L353.6 672.8 L340.7 691 L327.3 672.8 L334.3 672.8 Z"/>
<path d="M332.2 783.7 L339.7 800.3 L336.2 800.3 L336.2 820.5 L302 820.5 L308 814.4 L328.3 814.4 L328.3 800.3 L323.6 800.3 Z" stroke="#f4f5ec" stroke-width="1"/>
<path d="M350.3 783.7 L358.7 800.3 L354.1 800.3 L354.1 814.4 L372.5 814.4 L378.4 820.5 L346.8 820.5 L346.8 800.3 L342.4 800.3 Z" stroke="#f4f5ec" stroke-width="1"/>
</g>

<!-- HANDLE -->
<g id="handle">
<path d="M540 321.7 L569 321.7 Q573 321.7 575.5 324.5 L627 373 Q630 376 628.8 380 L588 508 L555 506.5 Q553.5 494 554 483.5 Q555 475 559.5 467 Q564 459 568 452 Q571.5 446 570.3 440 Q568 433 567 428 Q566 421 570 415 Q576 405 578 398 Q578.5 390 576.5 384.5 Q574 378 570 374.8 Q565 370.5 559.3 370.4 Q553 370.5 548 372.8 Q543 375.5 538.4 377.8 L519.3 377.8 L519.3 357.9 L540 357.9 Z" fill="#3f454d"/>
<path d="M572 322.5 L627 373.5 Q629.8 376.5 628.8 380 L588 508 L583.5 507.8 L624.5 379 Q625.3 376.5 623.5 374.8 L568.5 322.2 Z" fill="#4c5259"/>
</g>

<!-- KNOB -->
<g id="knob">
<path d="M307.5 230.3 L336.5 217.6 Q340.7 216.4 345 217.6 L373.8 230.3 L358.8 289.5 Q358 292.2 355.5 292.2 L327.5 292.2 Q325 292.2 324.3 289.5 Z" fill="#3a4047"/>
<path d="M307.5 230.3 L336.5 217.6 Q340.7 216.4 345 217.6 L373.8 230.3 L373.2 232 L308.2 232 Z" fill="#33383e"/>
<path d="M312.5 232 L336.7 232 L336.7 291 L328 291 Z" fill="#2f343a"/>
<path d="M336.7 232 L357.6 232 L350 291 L336.7 291 Z" fill="#3e454c"/>
<path d="M357.6 232 L371.5 232 L357.5 290 L350 291 Z" fill="#484f56"/>
</g>

<!-- INSET -->
<g id="inset"><ellipse cx="565.3" cy="598.9" rx="96.8" ry="91.3" fill="#fdfdfd"/>
<g clip-path="url(#circ)">
<rect x="470" y="510" width="192" height="180" fill="#fdeccb"/>
<circle cx="556.8" cy="578.5" r="0.5" fill="#f6cf95"/>
<circle cx="643.1" cy="567.5" r="0.5" fill="#f6cf95"/>
<circle cx="566.9" cy="581.7" r="0.5" fill="#f6cf95"/>
<circle cx="507.8" cy="572.9" r="0.5" fill="#f6cf95"/>
<circle cx="589.3" cy="605.8" r="0.5" fill="#f6cf95"/>
<circle cx="491.2" cy="548.5" r="0.5" fill="#f6cf95"/>
<circle cx="490.6" cy="607.7" r="0.5" fill="#f6cf95"/>
<circle cx="600.9" cy="517.9" r="0.5" fill="#f6cf95"/>
<circle cx="653.7" cy="625.9" r="0.5" fill="#f6cf95"/>
<circle cx="593.7" cy="585.0" r="0.5" fill="#f6cf95"/>
<circle cx="502.8" cy="514.8" r="0.5" fill="#f6cf95"/>
<circle cx="570.7" cy="520.0" r="0.5" fill="#f6cf95"/>
<circle cx="508.8" cy="541.3" r="0.5" fill="#f6cf95"/>
<circle cx="479.5" cy="567.3" r="0.5" fill="#f6cf95"/>
<circle cx="554.6" cy="611.6" r="0.5" fill="#f6cf95"/>
<circle cx="569.0" cy="587.9" r="0.5" fill="#f6cf95"/>
<circle cx="565.5" cy="590.5" r="0.5" fill="#f6cf95"/>
<circle cx="557.7" cy="545.5" r="0.5" fill="#f6cf95"/>
<circle cx="656.6" cy="629.5" r="0.5" fill="#f6cf95"/>
<circle cx="627.8" cy="595.8" r="0.5" fill="#f6cf95"/>
<circle cx="531.7" cy="539.9" r="0.5" fill="#f6cf95"/>
<circle cx="526.9" cy="521.2" r="0.5" fill="#f6cf95"/>
<circle cx="614.2" cy="559.8" r="0.5" fill="#f6cf95"/>
<circle cx="628.9" cy="558.2" r="0.5" fill="#f6cf95"/>
<circle cx="649.3" cy="612.1" r="0.5" fill="#f6cf95"/>
<circle cx="474.1" cy="537.5" r="0.5" fill="#f6cf95"/>
<circle cx="640.6" cy="568.0" r="0.5" fill="#f6cf95"/>
<circle cx="653.4" cy="559.5" r="0.5" fill="#f6cf95"/>
<circle cx="487.4" cy="586.6" r="0.5" fill="#f6cf95"/>
<circle cx="616.5" cy="544.6" r="0.5" fill="#f6cf95"/>
<circle cx="489.9" cy="551.9" r="0.5" fill="#f6cf95"/>
<circle cx="650.4" cy="601.7" r="0.5" fill="#f6cf95"/>
<circle cx="495.6" cy="541.8" r="0.5" fill="#f6cf95"/>
<circle cx="492.5" cy="520.0" r="0.5" fill="#f6cf95"/>
<circle cx="619.9" cy="533.8" r="0.5" fill="#f6cf95"/>
<circle cx="576.4" cy="565.3" r="0.5" fill="#f6cf95"/>
<circle cx="508.9" cy="598.6" r="0.5" fill="#f6cf95"/>
<circle cx="498.0" cy="588.3" r="0.5" fill="#f6cf95"/>
<circle cx="495.3" cy="562.2" r="0.5" fill="#f6cf95"/>
<circle cx="513.0" cy="544.6" r="0.5" fill="#f6cf95"/>
<circle cx="651.7" cy="607.0" r="0.5" fill="#f6cf95"/>
<circle cx="529.7" cy="616.5" r="0.5" fill="#f6cf95"/>
<circle cx="512.6" cy="559.1" r="0.5" fill="#f6cf95"/>
<circle cx="630.4" cy="588.1" r="0.5" fill="#f6cf95"/>
<circle cx="492.4" cy="628.7" r="0.5" fill="#f6cf95"/>
<circle cx="513.0" cy="543.2" r="0.5" fill="#f6cf95"/>
<circle cx="615.4" cy="551.5" r="0.5" fill="#f6cf95"/>
<circle cx="528.2" cy="521.6" r="0.5" fill="#f6cf95"/>
<circle cx="490.5" cy="581.2" r="0.5" fill="#f6cf95"/>
<circle cx="518.5" cy="583.4" r="0.5" fill="#f6cf95"/>
<circle cx="542.0" cy="566.0" r="0.5" fill="#f6cf95"/>
<circle cx="649.5" cy="569.6" r="0.5" fill="#f6cf95"/>
<circle cx="579.1" cy="614.4" r="0.5" fill="#f6cf95"/>
<circle cx="507.5" cy="531.0" r="0.5" fill="#f6cf95"/>
<circle cx="640.2" cy="608.7" r="0.5" fill="#f6cf95"/>
<circle cx="519.7" cy="535.2" r="0.5" fill="#f6cf95"/>
<circle cx="609.3" cy="623.0" r="0.5" fill="#f6cf95"/>
<circle cx="510.0" cy="624.2" r="0.5" fill="#f6cf95"/>
<circle cx="635.4" cy="583.6" r="0.5" fill="#f6cf95"/>
<circle cx="551.1" cy="525.1" r="0.5" fill="#f6cf95"/>
<circle cx="481.1" cy="625.6" r="0.5" fill="#f6cf95"/>
<circle cx="517.6" cy="595.4" r="0.5" fill="#f6cf95"/>
<circle cx="521.0" cy="609.4" r="0.5" fill="#f6cf95"/>
<circle cx="583.2" cy="547.3" r="0.5" fill="#f6cf95"/>
<circle cx="506.1" cy="597.3" r="0.5" fill="#f6cf95"/>
<circle cx="486.6" cy="539.7" r="0.5" fill="#f6cf95"/>
<circle cx="576.4" cy="612.7" r="0.5" fill="#f6cf95"/>
<circle cx="586.4" cy="545.8" r="0.5" fill="#f6cf95"/>
<circle cx="641.9" cy="536.9" r="0.5" fill="#f6cf95"/>
<circle cx="477.0" cy="544.5" r="0.5" fill="#f6cf95"/>
<circle cx="555.6" cy="520.1" r="0.5" fill="#f6cf95"/>
<circle cx="506.3" cy="556.1" r="0.5" fill="#f6cf95"/>
<circle cx="578.7" cy="528.4" r="0.5" fill="#f6cf95"/>
<circle cx="540.3" cy="617.2" r="0.5" fill="#f6cf95"/>
<circle cx="653.4" cy="589.9" r="0.5" fill="#f6cf95"/>
<circle cx="600.5" cy="581.4" r="0.5" fill="#f6cf95"/>
<circle cx="499.7" cy="517.1" r="0.5" fill="#f6cf95"/>
<circle cx="477.3" cy="619.5" r="0.5" fill="#f6cf95"/>
<circle cx="602.3" cy="625.6" r="0.5" fill="#f6cf95"/>
<circle cx="477.9" cy="587.4" r="0.5" fill="#f6cf95"/>
<circle cx="562.2" cy="598.5" r="0.5" fill="#f6cf95"/>
<circle cx="532.4" cy="629.9" r="0.5" fill="#f6cf95"/>
<circle cx="487.8" cy="576.9" r="0.5" fill="#f6cf95"/>
<circle cx="608.9" cy="618.3" r="0.5" fill="#f6cf95"/>
<circle cx="608.9" cy="595.3" r="0.5" fill="#f6cf95"/>
<circle cx="619.2" cy="620.1" r="0.5" fill="#f6cf95"/>
<circle cx="538.4" cy="593.2" r="0.5" fill="#f6cf95"/>
<circle cx="638.9" cy="614.9" r="0.5" fill="#f6cf95"/>
<circle cx="550.3" cy="605.5" r="0.5" fill="#f6cf95"/>
<circle cx="632.0" cy="580.0" r="0.5" fill="#f6cf95"/>
<circle cx="588.4" cy="557.7" r="0.5" fill="#f6cf95"/>
<circle cx="580.6" cy="584.2" r="0.5" fill="#f6cf95"/>
<circle cx="488.7" cy="587.8" r="0.5" fill="#f6cf95"/>
<circle cx="655.8" cy="615.9" r="0.5" fill="#f6cf95"/>
<circle cx="607.3" cy="558.4" r="0.5" fill="#f6cf95"/>
<circle cx="608.5" cy="581.0" r="0.5" fill="#f6cf95"/>
<circle cx="554.6" cy="611.1" r="0.5" fill="#f6cf95"/>
<circle cx="489.3" cy="600.8" r="0.5" fill="#f6cf95"/>
<circle cx="479.5" cy="583.4" r="0.5" fill="#f6cf95"/>
<circle cx="562.0" cy="539.9" r="0.5" fill="#f6cf95"/>
<circle cx="601.8" cy="571.2" r="0.5" fill="#f6cf95"/>
<circle cx="586.5" cy="620.7" r="0.5" fill="#f6cf95"/>
<circle cx="520.8" cy="514.3" r="0.5" fill="#f6cf95"/>
<circle cx="529.1" cy="592.3" r="0.5" fill="#f6cf95"/>
<circle cx="511.1" cy="532.8" r="0.5" fill="#f6cf95"/>
<circle cx="639.7" cy="590.2" r="0.5" fill="#f6cf95"/>
<circle cx="554.9" cy="617.3" r="0.5" fill="#f6cf95"/>
<circle cx="533.8" cy="590.9" r="0.5" fill="#f6cf95"/>
<circle cx="510.3" cy="563.4" r="0.5" fill="#f6cf95"/>
<circle cx="621.5" cy="620.0" r="0.5" fill="#f6cf95"/>
<circle cx="635.1" cy="558.0" r="0.5" fill="#f6cf95"/>
<circle cx="580.7" cy="550.0" r="0.5" fill="#f6cf95"/>
<circle cx="498.9" cy="571.1" r="0.5" fill="#f6cf95"/>
<circle cx="627.2" cy="612.3" r="0.5" fill="#f6cf95"/>
<circle cx="604.2" cy="624.2" r="0.5" fill="#f6cf95"/>
<circle cx="524.7" cy="532.8" r="0.5" fill="#f6cf95"/>
<circle cx="556.5" cy="545.2" r="0.5" fill="#f6cf95"/>
<circle cx="513.2" cy="561.4" r="0.5" fill="#f6cf95"/>
<circle cx="588.5" cy="570.8" r="0.5" fill="#f6cf95"/>
<circle cx="531.7" cy="611.2" r="0.5" fill="#f6cf95"/>
<circle cx="653.7" cy="565.9" r="0.5" fill="#f6cf95"/>
<circle cx="487.7" cy="516.7" r="0.5" fill="#f6cf95"/>
<circle cx="633.7" cy="517.9" r="0.5" fill="#f6cf95"/>
<circle cx="603.7" cy="579.8" r="0.5" fill="#f6cf95"/>
<circle cx="530.6" cy="605.6" r="0.5" fill="#f6cf95"/>
<circle cx="477.5" cy="528.9" r="0.5" fill="#f6cf95"/>
<circle cx="557.2" cy="515.9" r="0.5" fill="#f6cf95"/>
<circle cx="625.8" cy="540.8" r="0.5" fill="#f6cf95"/>
<circle cx="499.8" cy="518.5" r="0.5" fill="#f6cf95"/>
<circle cx="589.1" cy="565.2" r="0.5" fill="#f6cf95"/>
<circle cx="589.3" cy="589.6" r="0.5" fill="#f6cf95"/>
<circle cx="621.8" cy="625.1" r="0.5" fill="#f6cf95"/>
<circle cx="599.3" cy="536.3" r="0.5" fill="#f6cf95"/>
<circle cx="561.0" cy="533.9" r="0.5" fill="#f6cf95"/>
<circle cx="476.0" cy="568.2" r="0.5" fill="#f6cf95"/>
<circle cx="604.7" cy="534.0" r="0.5" fill="#f6cf95"/>
<circle cx="523.8" cy="553.5" r="0.5" fill="#f6cf95"/>
<circle cx="601.6" cy="573.9" r="0.5" fill="#f6cf95"/>
<circle cx="586.4" cy="601.5" r="0.5" fill="#f6cf95"/>
<circle cx="546.0" cy="605.7" r="0.5" fill="#f6cf95"/>
<circle cx="639.8" cy="523.2" r="0.5" fill="#f6cf95"/>
<circle cx="644.7" cy="597.5" r="0.5" fill="#f6cf95"/>
<circle cx="497.8" cy="566.1" r="0.5" fill="#f6cf95"/>
<circle cx="588.5" cy="619.5" r="0.5" fill="#f6cf95"/>
<circle cx="543.0" cy="579.6" r="0.5" fill="#f6cf95"/>
<circle cx="634.9" cy="606.2" r="0.5" fill="#f6cf95"/>
<circle cx="646.8" cy="567.3" r="0.5" fill="#f6cf95"/>
<circle cx="593.2" cy="537.0" r="0.5" fill="#f6cf95"/>
<circle cx="606.1" cy="608.7" r="0.5" fill="#f6cf95"/>
<circle cx="591.4" cy="597.0" r="0.5" fill="#f6cf95"/>
<circle cx="513.0" cy="618.3" r="0.5" fill="#f6cf95"/>
<circle cx="653.4" cy="627.4" r="0.5" fill="#f6cf95"/>
<circle cx="572.3" cy="605.5" r="0.5" fill="#f6cf95"/>
<circle cx="532.6" cy="619.5" r="0.5" fill="#f6cf95"/>
<circle cx="630.6" cy="553.8" r="0.5" fill="#f6cf95"/>
<circle cx="489.1" cy="564.6" r="0.5" fill="#f6cf95"/>
<circle cx="574.7" cy="602.9" r="0.5" fill="#f6cf95"/>
<circle cx="563.2" cy="516.3" r="0.5" fill="#f6cf95"/>
<circle cx="622.1" cy="520.5" r="0.5" fill="#f6cf95"/>
<circle cx="620.4" cy="533.2" r="0.5" fill="#f6cf95"/>
<circle cx="537.7" cy="526.9" r="9.0" fill="#f9a044"/>
<circle cx="556.2" cy="526.0" r="5.0" fill="#fbd088"/>
<circle cx="566.0" cy="537.6" r="4.0" fill="#f9953a"/>
<circle cx="596.8" cy="528.4" r="5.7" fill="#fbd088"/>
<circle cx="592.9" cy="544.8" r="10.5" fill="#f9c078"/>
<circle cx="521.2" cy="549.3" r="7.2" fill="#fbd088"/>
<circle cx="495.9" cy="565.7" r="5.7" fill="#f9a044"/>
<circle cx="518.3" cy="579.7" r="4.5" fill="#f9a044"/>
<circle cx="497.3" cy="590.2" r="5.4" fill="#fbd088"/>
<circle cx="507.2" cy="598.6" r="4.0" fill="#f9a044"/>
<circle cx="494.4" cy="606.0" r="8.4" fill="#fac778"/>
<circle cx="506.3" cy="621.0" r="3.3" fill="#fbd088"/>
<circle cx="626.7" cy="564.8" r="4.5" fill="#f9a044"/>
<circle cx="640.4" cy="575.3" r="3.3" fill="#f9a044"/>
<circle cx="607.9" cy="558.8" r="6.6" fill="#fbd28a"/>
<circle cx="607.3" cy="580.6" r="9.0" fill="#f9bd70"/>
<circle cx="590.5" cy="583.0" r="5.7" fill="#fbd088"/>
<circle cx="583.4" cy="561.2" r="7.5" fill="#f9b264"/>
<circle cx="566.0" cy="559.7" r="9.0" fill="#fbcf86"/>
<circle cx="552.0" cy="547.8" r="7.5" fill="#fbd088"/>
<circle cx="534.7" cy="555.9" r="6.6" fill="#fbd088"/>
<circle cx="624.3" cy="619.5" r="4.2" fill="#f9a044"/>
<circle cx="635.6" cy="600.0" r="5.0" fill="#fbd088"/>
<circle cx="616.8" cy="603.6" r="2.7" fill="#f9b264"/>
<circle cx="648.2" cy="628.4" r="6.0" fill="#fbd088"/>
<circle cx="481.0" cy="628.4" r="6.0" fill="#fbd088"/>
<circle cx="508.8" cy="575.8" r="2.2" fill="#f9b264"/>
<circle cx="523.5" cy="592.0" r="1.8" fill="#f9b264"/>
<circle cx="518.5" cy="534.0" r="1.8" fill="#fbc070"/>
<circle cx="523.0" cy="567.5" r="1.5" fill="#f9b264"/>
<circle cx="532.5" cy="542.0" r="1.5" fill="#f9b264"/>
<circle cx="605.5" cy="541.5" r="3.3" fill="#fbc878"/>
<circle cx="582.5" cy="537.0" r="3.2" fill="#fbd088"/>
<circle cx="609.0" cy="596.0" r="2.2" fill="#fbd088"/>
<circle cx="636.0" cy="606.0" r="2.0" fill="#f9a044"/>
<circle cx="645.5" cy="617.0" r="2.0" fill="#fbd088"/>
<circle cx="486.5" cy="591.0" r="1.5" fill="#fbd088"/>
<circle cx="583.0" cy="594.0" r="1.8" fill="#f9b264"/>
<path d="M470 632 Q478 629 486 630 Q494 625 502 628 Q512 624 522 627 Q532 623 542 627 Q552 624 560 628 L572 628 Q582 624 592 627 Q602 623 612 627 Q622 624 632 628 Q642 625 650 629 L662 632 L662 690 L470 690 Z" fill="#d8742a"/>
<path d="M470 648 Q485 643 500 648 Q515 652 530 646 Q545 642 560 650 Q575 654 590 647 Q605 642 620 648 Q635 653 662 645 L662 690 L470 690 Z" fill="#b85f20"/>
<path d="M470 666 Q490 660 510 665 Q530 670 550 662 Q570 658 590 665 Q610 670 630 662 L662 660 L662 690 L470 690 Z" fill="#8e4815"/>
<circle cx="536.0" cy="661.3" r="1.2" fill="#f08a38"/>
<circle cx="655.0" cy="665.9" r="1.8" fill="#b85a1c"/>
<circle cx="645.3" cy="649.2" r="2.6" fill="#f2a050"/>
<circle cx="611.7" cy="647.0" r="1.9" fill="#a8501a"/>
<circle cx="590.4" cy="650.4" r="2.4" fill="#a8501a"/>
<circle cx="521.9" cy="656.5" r="2.6" fill="#f5ad62"/>
<circle cx="513.3" cy="663.9" r="2.6" fill="#a8501a"/>
<circle cx="524.9" cy="649.4" r="1.6" fill="#f2a050"/>
<circle cx="566.1" cy="653.8" r="0.9" fill="#f4a555"/>
<circle cx="568.4" cy="645.4" r="2.3" fill="#f5ad62"/>
<circle cx="497.8" cy="632.8" r="1.2" fill="#a8501a"/>
<circle cx="558.1" cy="666.8" r="2.3" fill="#f29a48"/>
<circle cx="524.2" cy="648.4" r="1.1" fill="#f29a48"/>
<circle cx="637.3" cy="667.4" r="2.6" fill="#a8501a"/>
<circle cx="532.8" cy="636.8" r="2.0" fill="#f7b870"/>
<circle cx="499.2" cy="661.0" r="0.9" fill="#e8852f"/>
<circle cx="503.8" cy="629.5" r="1.4" fill="#c96a22"/>
<circle cx="519.8" cy="649.5" r="1.8" fill="#f5ad62"/>
<circle cx="498.0" cy="649.9" r="1.4" fill="#e8852f"/>
<circle cx="601.5" cy="665.0" r="0.9" fill="#f29a48"/>
<circle cx="623.7" cy="654.2" r="1.9" fill="#a8501a"/>
<circle cx="590.3" cy="650.7" r="2.4" fill="#f5ad62"/>
<circle cx="581.0" cy="634.6" r="2.5" fill="#c96a22"/>
<circle cx="637.6" cy="642.0" r="1.5" fill="#e8852f"/>
<circle cx="515.0" cy="669.9" r="2.5" fill="#f08a38"/>
<circle cx="635.1" cy="634.4" r="1.1" fill="#f29a48"/>
<circle cx="493.4" cy="663.1" r="1.7" fill="#f08a38"/>
<circle cx="511.9" cy="654.7" r="2.3" fill="#f2a050"/>
<circle cx="512.0" cy="657.0" r="2.5" fill="#c96a22"/>
<circle cx="496.7" cy="649.7" r="2.3" fill="#a8501a"/>
<circle cx="654.7" cy="663.2" r="2.3" fill="#b85a1c"/>
<circle cx="495.0" cy="630.5" r="1.9" fill="#a8501a"/>
<circle cx="638.0" cy="648.7" r="1.2" fill="#f2a050"/>
<circle cx="512.5" cy="663.4" r="2.7" fill="#f2a050"/>
<circle cx="579.8" cy="634.5" r="2.1" fill="#f2a050"/>
<circle cx="612.9" cy="642.4" r="1.7" fill="#a8501a"/>
<circle cx="539.5" cy="637.6" r="1.6" fill="#f4a555"/>
<circle cx="627.1" cy="636.4" r="1.7" fill="#c96a22"/>
<circle cx="548.5" cy="637.0" r="1.2" fill="#a8501a"/>
<circle cx="617.8" cy="642.3" r="1.1" fill="#f29a48"/>
<circle cx="578.0" cy="636.8" r="2.0" fill="#c96a22"/>
<circle cx="620.1" cy="639.6" r="2.5" fill="#f08a38"/>
<circle cx="621.8" cy="645.6" r="2.5" fill="#a8501a"/>
<circle cx="600.4" cy="660.5" r="2.3" fill="#f29a48"/>
<circle cx="513.0" cy="636.6" r="2.3" fill="#f7b870"/>
<circle cx="559.9" cy="629.4" r="1.5" fill="#f5ad62"/>
<circle cx="484.9" cy="640.2" r="2.6" fill="#f7b870"/>
<circle cx="536.5" cy="656.1" r="1.9" fill="#a8501a"/>
<circle cx="489.8" cy="650.1" r="1.8" fill="#e8852f"/>
<circle cx="601.5" cy="660.2" r="2.7" fill="#f4a555"/>
<circle cx="496.5" cy="633.4" r="1.3" fill="#b85a1c"/>
<circle cx="547.9" cy="631.1" r="1.3" fill="#f29a48"/>
<circle cx="477.9" cy="639.6" r="1.4" fill="#c96a22"/>
<circle cx="574.5" cy="649.8" r="2.6" fill="#f5ad62"/>
<circle cx="627.5" cy="633.1" r="1.7" fill="#f2a050"/>
<circle cx="574.3" cy="656.4" r="2.6" fill="#f29a48"/>
<circle cx="642.5" cy="635.6" r="1.7" fill="#f08a38"/>
<circle cx="629.2" cy="651.2" r="2.0" fill="#f29a48"/>
<circle cx="645.2" cy="646.2" r="1.8" fill="#f5ad62"/>
<circle cx="531.9" cy="650.7" r="1.8" fill="#f7b870"/>
<circle cx="576.4" cy="640.6" r="2.2" fill="#f7b870"/>
<circle cx="480.8" cy="660.7" r="2.0" fill="#f08a38"/>
<circle cx="549.2" cy="657.1" r="1.0" fill="#c96a22"/>
<circle cx="610.0" cy="631.1" r="2.7" fill="#c96a22"/>
<circle cx="489.2" cy="666.1" r="1.7" fill="#b85a1c"/>
<circle cx="520.9" cy="660.0" r="1.0" fill="#f2a050"/>
<circle cx="643.8" cy="658.6" r="1.7" fill="#e8852f"/>
<circle cx="584.0" cy="633.7" r="2.0" fill="#b85a1c"/>
<circle cx="497.1" cy="664.3" r="1.5" fill="#f08a38"/>
<circle cx="498.3" cy="647.2" r="2.1" fill="#b85a1c"/>
<circle cx="583.6" cy="655.2" r="2.1" fill="#c96a22"/>
<circle cx="615.3" cy="650.8" r="2.7" fill="#f7b870"/>
<circle cx="607.4" cy="638.8" r="1.1" fill="#f7b870"/>
<circle cx="616.4" cy="654.6" r="1.5" fill="#f7b870"/>
<circle cx="585.2" cy="658.7" r="2.2" fill="#e8852f"/>
<circle cx="589.3" cy="659.9" r="1.2" fill="#e8852f"/>
<circle cx="565.9" cy="655.8" r="1.3" fill="#f4a555"/>
<circle cx="588.5" cy="629.4" r="1.4" fill="#f4a555"/>
<circle cx="587.6" cy="633.2" r="1.9" fill="#f2a050"/>
<circle cx="611.3" cy="666.4" r="1.2" fill="#e8852f"/>
<circle cx="589.0" cy="644.3" r="1.8" fill="#e8852f"/>
<circle cx="536.5" cy="649.3" r="1.1" fill="#f2a050"/>
<circle cx="619.6" cy="647.3" r="2.4" fill="#e8852f"/>
<circle cx="555.5" cy="659.6" r="1.6" fill="#f08a38"/>
<circle cx="542.0" cy="655.8" r="2.7" fill="#c96a22"/>
<circle cx="528.1" cy="660.1" r="2.4" fill="#f08a38"/>
<circle cx="552.5" cy="644.1" r="1.1" fill="#c96a22"/>
<circle cx="490.1" cy="632.4" r="1.9" fill="#b85a1c"/>
<circle cx="621.9" cy="648.0" r="2.4" fill="#f4a555"/>
<circle cx="489.6" cy="637.7" r="2.1" fill="#f2a050"/>
<circle cx="600.4" cy="649.3" r="2.3" fill="#c96a22"/>
<circle cx="526.6" cy="634.9" r="1.5" fill="#c96a22"/>
<circle cx="541.6" cy="633.8" r="2.2" fill="#f5ad62"/>
<circle cx="582.5" cy="666.0" r="2.1" fill="#f7b870"/>
<circle cx="554.4" cy="661.9" r="1.4" fill="#c96a22"/>
<circle cx="515.6" cy="668.7" r="2.2" fill="#a8501a"/>
<circle cx="520.4" cy="643.8" r="1.6" fill="#c96a22"/>
<circle cx="597.2" cy="653.0" r="2.3" fill="#f5ad62"/>
<circle cx="541.9" cy="645.0" r="1.2" fill="#f5ad62"/>
<circle cx="576.7" cy="636.2" r="2.3" fill="#f7b870"/>
<circle cx="621.3" cy="638.1" r="1.0" fill="#f08a38"/>
<circle cx="577.6" cy="668.6" r="2.1" fill="#f29a48"/>
<circle cx="487.5" cy="651.4" r="2.3" fill="#f2a050"/>
<circle cx="535.9" cy="640.2" r="1.1" fill="#c96a22"/>
<circle cx="491.2" cy="655.0" r="1.2" fill="#f29a48"/>
<circle cx="519.9" cy="638.0" r="2.3" fill="#a8501a"/>
<circle cx="536.5" cy="647.8" r="1.5" fill="#c96a22"/>
<circle cx="596.4" cy="649.2" r="1.9" fill="#f2a050"/>
<circle cx="602.8" cy="666.5" r="1.6" fill="#c96a22"/>
<circle cx="628.8" cy="662.0" r="2.4" fill="#b85a1c"/>
<circle cx="647.4" cy="655.3" r="1.8" fill="#f4a555"/>
<circle cx="619.6" cy="646.3" r="1.7" fill="#f08a38"/>
<circle cx="520.0" cy="635.7" r="2.0" fill="#f08a38"/>
<circle cx="533.4" cy="645.0" r="1.9" fill="#f7b870"/>
<circle cx="649.6" cy="631.4" r="1.5" fill="#f2a050"/>
<circle cx="530.3" cy="635.4" r="2.6" fill="#f4a555"/>
<circle cx="610.8" cy="629.7" r="1.8" fill="#f4a555"/>
<circle cx="531.9" cy="637.1" r="1.5" fill="#f5ad62"/>
<circle cx="518.1" cy="658.4" r="2.0" fill="#e8852f"/>
<circle cx="555.1" cy="665.7" r="1.6" fill="#f7b870"/>
<circle cx="588.2" cy="667.6" r="1.9" fill="#f7b870"/>
<circle cx="562.8" cy="645.5" r="2.6" fill="#a8501a"/>
<circle cx="614.1" cy="632.8" r="2.5" fill="#f29a48"/>
<circle cx="484.9" cy="667.8" r="2.3" fill="#f29a48"/>
<circle cx="650.7" cy="661.6" r="2.3" fill="#f4a555"/>
<circle cx="593.7" cy="638.7" r="0.9" fill="#b85a1c"/>
<circle cx="638.0" cy="647.5" r="1.3" fill="#f29a48"/>
<circle cx="584.5" cy="635.4" r="1.2" fill="#c96a22"/>
<circle cx="501.9" cy="666.2" r="2.4" fill="#f08a38"/>
<circle cx="590.0" cy="669.7" r="1.4" fill="#a8501a"/>
<circle cx="485.5" cy="652.4" r="1.2" fill="#e8852f"/>
<circle cx="623.0" cy="663.7" r="2.4" fill="#f2a050"/>
<circle cx="539.0" cy="654.2" r="1.9" fill="#b85a1c"/>
<circle cx="600.2" cy="632.4" r="2.2" fill="#a8501a"/>
<circle cx="629.5" cy="641.4" r="2.3" fill="#f29a48"/>
<circle cx="510.6" cy="657.0" r="2.3" fill="#b85a1c"/>
<circle cx="513.3" cy="651.3" r="1.8" fill="#f08a38"/>
<circle cx="645.4" cy="668.5" r="1.5" fill="#f29a48"/>
<circle cx="489.6" cy="641.5" r="1.7" fill="#f2a050"/>
<circle cx="540.4" cy="657.2" r="1.1" fill="#f29a48"/>
<circle cx="597.0" cy="659.6" r="2.3" fill="#f2a050"/>
<circle cx="593.1" cy="629.5" r="1.6" fill="#b85a1c"/>
<circle cx="518.5" cy="652.1" r="1.7" fill="#f4a555"/>
<circle cx="629.2" cy="663.6" r="2.2" fill="#f5ad62"/>
<circle cx="503.2" cy="654.7" r="2.6" fill="#f7b870"/>
<circle cx="646.8" cy="660.0" r="1.9" fill="#f2a050"/>
<circle cx="521.9" cy="637.2" r="2.2" fill="#c96a22"/>
<circle cx="531.4" cy="640.2" r="1.7" fill="#c96a22"/>
<circle cx="556.0" cy="644.7" r="1.1" fill="#f5ad62"/>
<circle cx="492.9" cy="656.8" r="2.2" fill="#f08a38"/>
<circle cx="510.6" cy="630.5" r="1.7" fill="#f2a050"/>
<circle cx="494.0" cy="630.3" r="2.7" fill="#f29a48"/>
<circle cx="548.8" cy="632.0" r="2.6" fill="#f29a48"/>
<circle cx="641.9" cy="634.7" r="1.3" fill="#f08a38"/>
<circle cx="623.0" cy="644.8" r="1.5" fill="#f29a48"/>
<circle cx="587.5" cy="658.8" r="2.0" fill="#c96a22"/>
<circle cx="651.8" cy="661.4" r="2.1" fill="#f5ad62"/>
<circle cx="570.9" cy="639.7" r="1.2" fill="#f7b870"/>
<circle cx="592.5" cy="633.4" r="1.6" fill="#a8501a"/>
<circle cx="535.6" cy="641.0" r="1.1" fill="#f08a38"/>
<circle cx="521.4" cy="651.1" r="1.4" fill="#e8852f"/>
<circle cx="539.1" cy="649.5" r="1.2" fill="#e8852f"/>
<circle cx="652.6" cy="650.2" r="2.2" fill="#e8852f"/>
<circle cx="577.6" cy="630.1" r="2.1" fill="#f2a050"/>
<circle cx="500.4" cy="648.6" r="1.7" fill="#c96a22"/>
<circle cx="534.9" cy="667.1" r="1.6" fill="#b85a1c"/>
<circle cx="634.1" cy="647.5" r="2.2" fill="#e8852f"/>
<circle cx="637.8" cy="651.3" r="1.9" fill="#a8501a"/>
<circle cx="639.8" cy="635.9" r="2.2" fill="#c96a22"/>
<circle cx="583.7" cy="634.0" r="2.4" fill="#f7b870"/>
<circle cx="598.6" cy="643.9" r="2.3" fill="#c96a22"/>
<circle cx="624.7" cy="636.6" r="1.9" fill="#f2a050"/>
<circle cx="557.3" cy="645.5" r="2.3" fill="#f08a38"/>
<circle cx="531.1" cy="656.5" r="2.2" fill="#f29a48"/>
<circle cx="586.1" cy="655.3" r="2.3" fill="#f08a38"/>
<circle cx="511.7" cy="648.2" r="1.2" fill="#f29a48"/>
<circle cx="497.2" cy="645.6" r="1.5" fill="#f08a38"/>
<circle cx="523.2" cy="652.3" r="1.5" fill="#f4a555"/>
<circle cx="605.2" cy="661.3" r="1.6" fill="#b85a1c"/>
<circle cx="583.4" cy="648.3" r="1.6" fill="#f5ad62"/>
<circle cx="639.4" cy="652.2" r="1.6" fill="#f7b870"/>
<circle cx="563.0" cy="669.8" r="2.4" fill="#f29a48"/>
<circle cx="623.7" cy="633.8" r="1.1" fill="#a8501a"/>
<circle cx="535.1" cy="650.3" r="1.7" fill="#f4a555"/>
<circle cx="533.4" cy="631.2" r="2.2" fill="#f29a48"/>
<circle cx="607.0" cy="653.5" r="2.3" fill="#f7b870"/>
<circle cx="634.0" cy="665.0" r="1.3" fill="#b85a1c"/>
<circle cx="519.4" cy="664.8" r="2.7" fill="#b85a1c"/>
<circle cx="600.4" cy="650.6" r="1.3" fill="#f7b870"/>
<circle cx="593.6" cy="667.5" r="2.5" fill="#c96a22"/>
<circle cx="631.1" cy="646.3" r="2.3" fill="#e8852f"/>
<circle cx="592.3" cy="646.3" r="1.1" fill="#f2a050"/>
<circle cx="493.6" cy="661.5" r="1.1" fill="#a8501a"/>
<circle cx="579.1" cy="647.6" r="1.4" fill="#f7b870"/>
<circle cx="480.3" cy="636.1" r="1.7" fill="#b85a1c"/>
<circle cx="622.0" cy="645.3" r="1.5" fill="#f5ad62"/>
<circle cx="517.3" cy="641.6" r="1.7" fill="#c96a22"/>
<circle cx="531.1" cy="649.4" r="2.6" fill="#b85a1c"/>
<circle cx="633.3" cy="637.3" r="2.4" fill="#f4a555"/>
<circle cx="511.0" cy="663.4" r="1.5" fill="#b85a1c"/>
<circle cx="478.9" cy="655.1" r="2.2" fill="#a8501a"/>
<circle cx="512.2" cy="654.9" r="1.2" fill="#f4a555"/>
<circle cx="592.4" cy="641.5" r="2.4" fill="#f7b870"/>
<circle cx="631.7" cy="658.2" r="1.1" fill="#b85a1c"/>
<circle cx="550.3" cy="635.9" r="2.5" fill="#f2a050"/>
<circle cx="603.2" cy="637.1" r="1.2" fill="#e8852f"/>
<circle cx="565.8" cy="641.1" r="1.4" fill="#a8501a"/>
<circle cx="634.3" cy="653.2" r="1.3" fill="#f7b870"/>
<circle cx="636.3" cy="636.4" r="1.3" fill="#f08a38"/>
<circle cx="590.5" cy="632.7" r="2.7" fill="#b85a1c"/>
<circle cx="640.2" cy="632.0" r="2.5" fill="#f4a555"/>
<circle cx="583.3" cy="640.7" r="1.4" fill="#f5ad62"/>
<circle cx="491.6" cy="640.7" r="2.3" fill="#e8852f"/>
<circle cx="508.1" cy="659.1" r="1.0" fill="#f08a38"/>
<circle cx="652.8" cy="630.4" r="1.7" fill="#f5ad62"/>
<circle cx="544.9" cy="667.1" r="1.8" fill="#f08a38"/>
<circle cx="487.5" cy="660.8" r="2.5" fill="#c96a22"/>
<circle cx="593.8" cy="661.1" r="1.8" fill="#a8501a"/>
<circle cx="624.0" cy="655.0" r="2.7" fill="#a8501a"/>
<circle cx="507.1" cy="661.0" r="1.2" fill="#f5ad62"/>
<circle cx="554.0" cy="656.4" r="1.9" fill="#f7b870"/>
<circle cx="616.8" cy="661.4" r="1.3" fill="#b85a1c"/>
<circle cx="573.4" cy="664.0" r="2.0" fill="#f7b870"/>
<circle cx="482.3" cy="653.5" r="2.2" fill="#f5ad62"/>
<circle cx="556.3" cy="665.1" r="1.5" fill="#f5ad62"/>
<circle cx="479.2" cy="649.3" r="1.7" fill="#b85a1c"/>
<circle cx="605.4" cy="664.1" r="1.0" fill="#f2a050"/>
<circle cx="638.4" cy="652.3" r="1.9" fill="#e8852f"/>
<circle cx="587.6" cy="631.2" r="1.7" fill="#c96a22"/>
<circle cx="622.7" cy="659.3" r="2.3" fill="#f5ad62"/>
<circle cx="565.2" cy="655.7" r="1.8" fill="#f29a48"/>
<circle cx="521.6" cy="635.6" r="2.1" fill="#f5ad62"/>
<circle cx="616.8" cy="631.5" r="1.6" fill="#c96a22"/>
<circle cx="601.1" cy="657.9" r="2.6" fill="#f08a38"/>
<circle cx="563.6" cy="660.2" r="2.7" fill="#f08a38"/>
<circle cx="609.3" cy="650.4" r="2.7" fill="#f4a555"/>
<circle cx="519.1" cy="665.5" r="1.2" fill="#f29a48"/>
<circle cx="575.5" cy="648.3" r="2.6" fill="#f4a555"/>
<circle cx="597.7" cy="658.4" r="2.7" fill="#f5ad62"/>
<circle cx="517.1" cy="639.4" r="1.9" fill="#e8852f"/>
<circle cx="550.9" cy="632.5" r="1.3" fill="#f7b870"/>
<circle cx="536.3" cy="669.2" r="2.0" fill="#f4a555"/>
<circle cx="504.7" cy="653.0" r="2.7" fill="#c96a22"/>
<circle cx="577.6" cy="666.4" r="2.5" fill="#f08a38"/>
<circle cx="558.8" cy="645.1" r="2.4" fill="#f29a48"/>
<circle cx="543.8" cy="631.0" r="1.7" fill="#e8852f"/>
<circle cx="508.9" cy="651.5" r="1.2" fill="#e8852f"/>
<circle cx="547.6" cy="653.3" r="2.3" fill="#b85a1c"/>
<circle cx="556.0" cy="669.7" r="2.1" fill="#b85a1c"/>
<circle cx="512.6" cy="644.7" r="1.0" fill="#f7b870"/>
<circle cx="540.9" cy="640.3" r="0.9" fill="#f08a38"/>
<circle cx="608.7" cy="650.0" r="1.9" fill="#e8852f"/>
<circle cx="524.1" cy="643.8" r="1.2" fill="#c96a22"/>
<circle cx="500.5" cy="638.9" r="2.4" fill="#f2a050"/>
<circle cx="479.7" cy="642.2" r="1.6" fill="#f2a050"/>
<circle cx="629.0" cy="644.6" r="1.4" fill="#a8501a"/>
<circle cx="595.8" cy="641.4" r="2.0" fill="#b85a1c"/>
<circle cx="483.3" cy="635.2" r="2.0" fill="#f4a555"/>
<circle cx="513.3" cy="645.8" r="1.8" fill="#f08a38"/>
<circle cx="568.5" cy="651.5" r="1.5" fill="#b85a1c"/>
<circle cx="595.2" cy="635.0" r="1.3" fill="#f7b870"/>
<circle cx="571.8" cy="647.4" r="1.1" fill="#a8501a"/>
<circle cx="631.0" cy="638.3" r="1.4" fill="#c96a22"/>
<circle cx="585.4" cy="634.8" r="2.4" fill="#b85a1c"/>
<circle cx="577.3" cy="662.2" r="2.7" fill="#f7b870"/>
<circle cx="594.2" cy="631.7" r="2.4" fill="#a8501a"/>
<circle cx="599.4" cy="656.3" r="2.6" fill="#c96a22"/>
<circle cx="518.0" cy="654.9" r="1.1" fill="#f29a48"/>
<circle cx="497.4" cy="649.2" r="1.8" fill="#c96a22"/>
<circle cx="526.9" cy="657.8" r="1.3" fill="#f29a48"/>
<circle cx="512.1" cy="660.5" r="1.5" fill="#e8852f"/>
<circle cx="569.2" cy="659.5" r="2.5" fill="#f08a38"/>
<circle cx="561.6" cy="639.5" r="2.4" fill="#f7b870"/>
<circle cx="601.3" cy="629.9" r="1.6" fill="#c96a22"/>
<circle cx="638.8" cy="666.4" r="1.4" fill="#f29a48"/>
<circle cx="564.7" cy="653.0" r="1.7" fill="#c96a22"/>
<circle cx="634.6" cy="632.0" r="1.0" fill="#c96a22"/>
<circle cx="635.6" cy="652.2" r="1.4" fill="#f08a38"/>
<circle cx="591.0" cy="644.8" r="1.5" fill="#c96a22"/>
<circle cx="481.6" cy="658.0" r="1.3" fill="#f2a050"/>
<circle cx="588.3" cy="654.5" r="1.6" fill="#f29a48"/>
<circle cx="487.4" cy="631.8" r="1.7" fill="#b85a1c"/>
<circle cx="544.4" cy="666.3" r="1.0" fill="#f08a38"/>
<circle cx="598.3" cy="640.2" r="1.8" fill="#b85a1c"/>
<circle cx="650.9" cy="635.1" r="1.2" fill="#e8852f"/>
<circle cx="522.2" cy="638.0" r="1.8" fill="#a8501a"/>
<circle cx="651.4" cy="629.1" r="1.9" fill="#a8501a"/>
<circle cx="490.1" cy="662.8" r="2.5" fill="#c96a22"/>
<circle cx="523.3" cy="633.3" r="0.9" fill="#e8852f"/>
<circle cx="600.5" cy="657.1" r="2.6" fill="#f08a38"/>
<circle cx="504.5" cy="654.5" r="1.8" fill="#f5ad62"/>
<circle cx="528.6" cy="646.0" r="1.6" fill="#a8501a"/>
<circle cx="565.2" cy="655.5" r="1.6" fill="#f08a38"/>
<circle cx="640.2" cy="659.2" r="2.5" fill="#f2a050"/>
<circle cx="622.4" cy="665.3" r="1.5" fill="#b85a1c"/>
<circle cx="567.7" cy="656.8" r="1.0" fill="#f5ad62"/>
<circle cx="631.1" cy="664.7" r="1.0" fill="#f7b870"/>
<circle cx="547.1" cy="659.3" r="2.1" fill="#f7b870"/>
<circle cx="604.2" cy="639.3" r="2.2" fill="#c96a22"/>
<circle cx="508.9" cy="664.1" r="1.3" fill="#f5ad62"/>
<circle cx="624.3" cy="652.3" r="1.7" fill="#f08a38"/>
<circle cx="587.5" cy="663.1" r="2.3" fill="#f08a38"/>
<circle cx="512.0" cy="654.5" r="1.4" fill="#f08a38"/>
<circle cx="650.3" cy="648.3" r="2.1" fill="#f08a38"/>
<circle cx="524.0" cy="640.1" r="1.4" fill="#f29a48"/>
<circle cx="545.2" cy="656.9" r="1.1" fill="#f08a38"/>
<circle cx="603.7" cy="633.9" r="1.0" fill="#f7b870"/>
<circle cx="539.8" cy="651.1" r="2.3" fill="#f29a48"/>
<circle cx="535.1" cy="630.1" r="1.9" fill="#b85a1c"/>
<circle cx="506.7" cy="631.8" r="1.7" fill="#f7b870"/>
<circle cx="516.0" cy="658.6" r="1.6" fill="#f08a38"/>
<circle cx="651.6" cy="645.0" r="2.1" fill="#a8501a"/>
<circle cx="526.6" cy="664.5" r="1.7" fill="#f2a050"/>
<circle cx="575.6" cy="665.8" r="2.5" fill="#f29a48"/>
<circle cx="497.5" cy="642.3" r="0.9" fill="#f5ad62"/>
<circle cx="577.8" cy="640.2" r="1.6" fill="#c96a22"/>
<circle cx="516.7" cy="648.8" r="1.6" fill="#f7b870"/>
<circle cx="576.0" cy="635.2" r="0.9" fill="#f7b870"/>
<circle cx="596.0" cy="629.2" r="1.5" fill="#f08a38"/>
<circle cx="654.5" cy="637.3" r="2.5" fill="#b85a1c"/>
<circle cx="481.7" cy="643.4" r="1.9" fill="#a8501a"/>
<circle cx="486.3" cy="651.6" r="2.1" fill="#f5ad62"/>
<circle cx="521.2" cy="636.7" r="1.4" fill="#e8852f"/>
<circle cx="654.0" cy="647.2" r="2.4" fill="#f4a555"/>
<circle cx="507.5" cy="630.1" r="1.2" fill="#f2a050"/>
<circle cx="596.8" cy="640.1" r="0.9" fill="#a8501a"/>
<circle cx="531.5" cy="650.1" r="0.9" fill="#e8852f"/>
<circle cx="487.4" cy="643.9" r="2.3" fill="#f7b870"/>
<circle cx="621.0" cy="661.5" r="2.2" fill="#f29a48"/>
<circle cx="531.1" cy="650.8" r="2.1" fill="#f2a050"/>
<circle cx="621.7" cy="675.7" r="1.8" fill="#a85a20"/>
<circle cx="532.6" cy="682.6" r="0.8" fill="#d8803a"/>
<circle cx="518.3" cy="673.2" r="1.7" fill="#d8803a"/>
<circle cx="585.4" cy="681.0" r="1.2" fill="#a85a20"/>
<circle cx="546.0" cy="672.5" r="1.9" fill="#f7c8a0"/>
<circle cx="577.2" cy="672.2" r="1.1" fill="#f4b070"/>
<circle cx="527.5" cy="679.9" r="1.5" fill="#f4b070"/>
<circle cx="523.0" cy="669.7" r="1.0" fill="#f7c8a0"/>
<circle cx="523.7" cy="668.4" r="1.3" fill="#c96a22"/>
<circle cx="552.4" cy="673.1" r="1.4" fill="#f4b070"/>
<circle cx="502.7" cy="670.8" r="0.9" fill="#d8803a"/>
<circle cx="514.1" cy="683.8" r="1.3" fill="#f4b070"/>
<circle cx="564.9" cy="680.5" r="1.9" fill="#f7c8a0"/>
<circle cx="509.1" cy="674.2" r="1.9" fill="#f4b070"/>
<circle cx="601.1" cy="676.4" r="0.8" fill="#a85a20"/>
<circle cx="618.4" cy="668.9" r="1.5" fill="#f7c8a0"/>
<circle cx="615.4" cy="681.7" r="1.6" fill="#d8803a"/>
<circle cx="626.0" cy="682.8" r="0.9" fill="#a85a20"/>
<circle cx="556.7" cy="675.5" r="1.8" fill="#d8803a"/>
<circle cx="529.9" cy="677.6" r="1.5" fill="#d8803a"/>
<circle cx="619.6" cy="676.5" r="1.3" fill="#f7c8a0"/>
<circle cx="577.1" cy="677.5" r="1.9" fill="#f4b070"/>
<circle cx="569.8" cy="673.3" r="1.1" fill="#d8803a"/>
<circle cx="540.7" cy="679.8" r="2.0" fill="#a85a20"/>
<circle cx="506.8" cy="683.5" r="1.7" fill="#a85a20"/>
<circle cx="514.4" cy="671.0" r="1.9" fill="#f4b070"/>
<path d="M555.5 664 Q549 636 540 618 Q534 615 527 615 Q518 613 518 606 Q519 598 529 599 Q526 588 526 577 Q527 571 534 571.5 Q540 575 544 584 L546 574 Q546 568 548 566 L552 572 L555 566 L575 566 Q579 574 578.5 586 L582.5 582 L580 592 Q586 592 592 596 Q603 594 604 603 Q603 613 590 615 Q580 630 572 664 Z" fill="#fbd28a"/>
<circle cx="564.0" cy="574.7" r="11.4" fill="#f9a850"/>
<circle cx="564.3" cy="575.5" r="2.8" fill="#e8731f"/>
<path d="M556.5 664 Q549 628 541 611 L534.2 604.4 L544.6 602.8 Q553 625 559 664 Z" fill="#f59a3e"/>
<path d="M558.5 664 Q553 625 543 600 Q537 586 529.5 578.5 Q529.5 573 535 574.5 Q545 584 550 600 Q558 628 561.5 664 Z" fill="#f59a3e"/>
<path d="M561 664 L558 600 Q558.5 596 563 596 L564.5 664 Z" fill="#f59a3e"/>
<path d="M565.3 664 L565.3 597 Q569 594 572.8 596 L568.5 664 Z" fill="#f59a3e"/>
<path d="M568.8 664 Q569 625 574.4 590 L582.5 582.7 L578 592 Q573 625 571.2 664 Z" fill="#f59a3e"/>
<path d="M570.5 664 Q574 625 588 606 L599.4 600.4 Q598 605 591 609 Q578 630 573.5 664 Z" fill="#f59a3e"/>
<path d="M543.5 567 Q541 560 535 557" stroke="#f9b264" stroke-width="1.5" fill="none"/>
<path d="M547.5 567 Q547 554 551 549" stroke="#f9b264" stroke-width="1.5" fill="none"/>
<circle cx="534.2" cy="556.1" r="2.6" fill="#e8731f"/>
<circle cx="551.1" cy="548.0" r="2.4" fill="#e8731f"/>
<circle cx="544.6" cy="569.0" r="2.6" fill="#e8731f"/>
<circle cx="547.0" cy="592.3" r="2.6" fill="#e8731f"/>
<circle cx="560.0" cy="598.0" r="2.4" fill="#e8731f"/>
<circle cx="567.2" cy="595.6" r="2.4" fill="#e8731f"/>
<circle cx="574.4" cy="586.7" r="2.6" fill="#e8731f"/>
<circle cx="593.7" cy="570.6" r="4.3" fill="#e8731f"/>
<circle cx="588.9" cy="603.6" r="2.6" fill="#e8731f"/>
<circle cx="564.8" cy="638.2" r="2.2" fill="#e8731f"/>
<circle cx="581.0" cy="566.0" r="2.2" fill="#e8731f"/>
<circle cx="533.0" cy="577.0" r="2.2" fill="#e8731f"/>
</g>
<circle cx="503.9" cy="524.8" r="2.7" fill="#f9a044"/></g>

<!-- LABELS -->
<g id="labels" fill="#333333" font-size="25">
<text x="73.6" y="420.5" textLength="54.5" lengthAdjust="spacingAndGlyphs" stroke="#333333" stroke-width="0.7">Café</text>
<text x="36" y="517.8" textLength="164.8" lengthAdjust="spacingAndGlyphs" stroke="#333333" stroke-width="0.7">Vapeur pousse</text>
<text x="93.3" y="550.7" textLength="55.2" lengthAdjust="spacingAndGlyphs" stroke="#333333" stroke-width="0.7">l’éau</text>
<text x="92.2" y="779" textLength="43.3" lengthAdjust="spacingAndGlyphs" stroke="#333333" stroke-width="0.7">Eau</text>
<g font-size="22" stroke="#333333" stroke-width="0.4">
<text x="509.4" y="719.5" textLength="135.4" lengthAdjust="spacingAndGlyphs">Vapeur + eau</text>
<text x="537" y="750.4" textLength="87.7" lengthAdjust="spacingAndGlyphs">restante</text>
<text x="525.5" y="781" textLength="103.2" lengthAdjust="spacingAndGlyphs">expulséès</text>
<text x="517" y="811.7" textLength="126" lengthAdjust="spacingAndGlyphs">violemment</text>
</g>
<g stroke="#3a3f45" stroke-width="1.2" fill="none" stroke-linecap="round">
<path d="M134.3 413.2 L190.7 414.5"/>
<path d="M155.3 544.3 L229.3 555.5"/>
<path d="M141.4 771.3 L219.6 775.7"/>
<path d="M437 611 L463.3 623"/>
</g>
</g>
</svg>
</body></html>
